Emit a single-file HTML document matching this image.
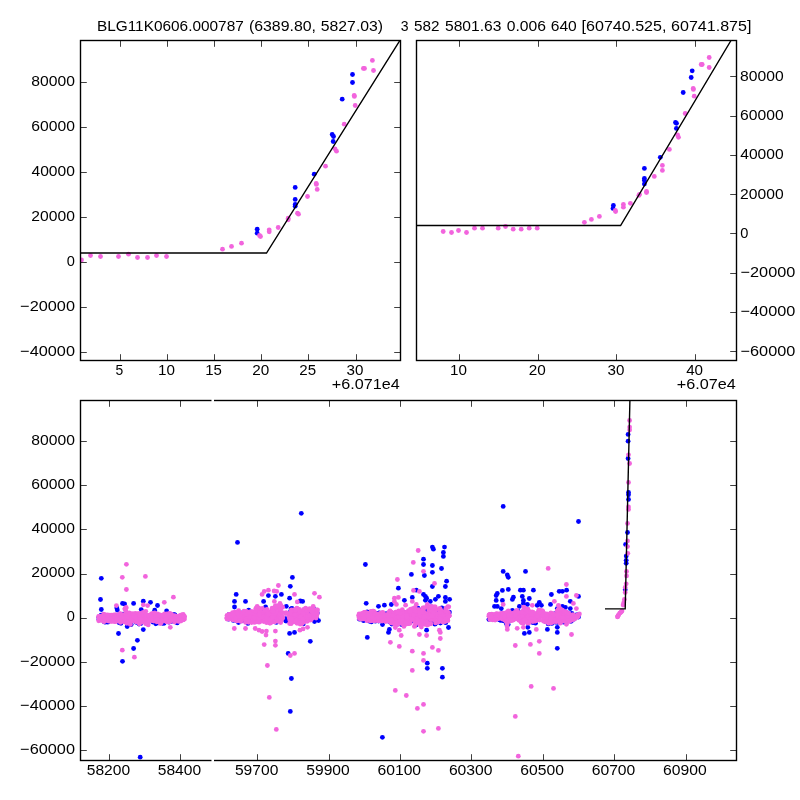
<!DOCTYPE html>
<html><head><meta charset="utf-8"><title>plot</title>
<style>
html,body{margin:0;padding:0;background:#fff;}
svg{display:block;will-change:transform;}
text{font-family:"Liberation Sans",sans-serif;font-size:13.889px;fill:#000;}
</style></head><body>
<svg width="800" height="800" viewBox="0 0 800 800">
<rect width="800" height="800" fill="#fff"/>
<defs><clipPath id="c1"><rect x="80.5" y="40.5" width="320" height="320"/></clipPath><clipPath id="c2"><rect x="416.5" y="40.5" width="320" height="320"/></clipPath><clipPath id="c3"><rect x="80.5" y="400.5" width="656" height="360"/></clipPath></defs>
<g clip-path="url(#c1)">
<g fill="#0000ff">
<circle cx="352.5" cy="74.5" r="2.4"/>
<circle cx="352.5" cy="82.5" r="2.4"/>
<circle cx="342.2" cy="99.2" r="2.4"/>
<circle cx="332.2" cy="134.5" r="2.4"/>
<circle cx="333.5" cy="136.5" r="2.4"/>
<circle cx="333.2" cy="141.5" r="2.4"/>
<circle cx="314.2" cy="174.2" r="2.4"/>
<circle cx="295.2" cy="187.4" r="2.4"/>
<circle cx="295.2" cy="199.4" r="2.4"/>
<circle cx="295.2" cy="204.5" r="2.4"/>
<circle cx="295.2" cy="206.2" r="2.4"/>
<circle cx="257.2" cy="229.2" r="2.4"/>
<circle cx="257.2" cy="233.2" r="2.4"/>
</g>
<g fill="#f264dd">
<circle cx="372.4" cy="60.4" r="2.4"/>
<circle cx="363.4" cy="68.4" r="2.4"/>
<circle cx="364.5" cy="68.4" r="2.4"/>
<circle cx="373.5" cy="70.5" r="2.4"/>
<circle cx="354.2" cy="95.4" r="2.4"/>
<circle cx="354.4" cy="96.4" r="2.4"/>
<circle cx="355.2" cy="105.5" r="2.4"/>
<circle cx="344.2" cy="124.2" r="2.4"/>
<circle cx="335.0" cy="148.8" r="2.4"/>
<circle cx="336.5" cy="151.2" r="2.4"/>
<circle cx="325.5" cy="166.2" r="2.4"/>
<circle cx="316.2" cy="183.5" r="2.4"/>
<circle cx="316.4" cy="184.4" r="2.4"/>
<circle cx="317.2" cy="189.4" r="2.4"/>
<circle cx="307.5" cy="196.5" r="2.4"/>
<circle cx="297.5" cy="213.2" r="2.4"/>
<circle cx="298.5" cy="214.2" r="2.4"/>
<circle cx="288.2" cy="218.2" r="2.4"/>
<circle cx="288.2" cy="219.8" r="2.4"/>
<circle cx="278.2" cy="227.5" r="2.4"/>
<circle cx="269.2" cy="229.8" r="2.4"/>
<circle cx="269.2" cy="231.8" r="2.4"/>
<circle cx="259.5" cy="235.5" r="2.4"/>
<circle cx="260.5" cy="236.5" r="2.4"/>
<circle cx="241.5" cy="243.2" r="2.4"/>
<circle cx="231.5" cy="246.4" r="2.4"/>
<circle cx="222.5" cy="249.2" r="2.4"/>
<circle cx="81.5" cy="260.0" r="2.4"/>
<circle cx="90.5" cy="255.5" r="2.4"/>
<circle cx="100.5" cy="256.5" r="2.4"/>
<circle cx="118.5" cy="256.5" r="2.4"/>
<circle cx="128.5" cy="254.2" r="2.4"/>
<circle cx="137.5" cy="257.5" r="2.4"/>
<circle cx="147.5" cy="257.5" r="2.4"/>
<circle cx="156.5" cy="255.5" r="2.4"/>
<circle cx="166.5" cy="256.5" r="2.4"/>
</g>
<polyline points="80.5,253 266.5,253 400.5,39.5" fill="none" stroke="#000" stroke-width="1.4" stroke-linejoin="miter"/>
</g>
<g clip-path="url(#c2)">
<g fill="#0000ff">
<circle cx="692.2" cy="70.8" r="2.4"/>
<circle cx="691.2" cy="77.5" r="2.4"/>
<circle cx="683.2" cy="92.5" r="2.4"/>
<circle cx="675.5" cy="122.5" r="2.4"/>
<circle cx="676.5" cy="123.3" r="2.4"/>
<circle cx="676.4" cy="128.4" r="2.4"/>
<circle cx="660.3" cy="157.3" r="2.4"/>
<circle cx="644.4" cy="168.4" r="2.4"/>
<circle cx="644.4" cy="178.4" r="2.4"/>
<circle cx="644.4" cy="180.4" r="2.4"/>
<circle cx="644.4" cy="184.1" r="2.4"/>
<circle cx="613.4" cy="205.4" r="2.4"/>
<circle cx="613.0" cy="208.4" r="2.4"/>
</g>
<g fill="#f264dd">
<circle cx="709.2" cy="57.5" r="2.4"/>
<circle cx="701.2" cy="64.5" r="2.4"/>
<circle cx="702.2" cy="64.5" r="2.4"/>
<circle cx="709.2" cy="67.5" r="2.4"/>
<circle cx="693.2" cy="88.4" r="2.4"/>
<circle cx="693.4" cy="89.4" r="2.4"/>
<circle cx="694.2" cy="96.2" r="2.4"/>
<circle cx="685.2" cy="113.5" r="2.4"/>
<circle cx="677.6" cy="135.0" r="2.4"/>
<circle cx="678.5" cy="137.3" r="2.4"/>
<circle cx="669.4" cy="149.4" r="2.4"/>
<circle cx="662.4" cy="165.4" r="2.4"/>
<circle cx="662.4" cy="170.4" r="2.4"/>
<circle cx="654.3" cy="176.4" r="2.4"/>
<circle cx="646.5" cy="191.4" r="2.4"/>
<circle cx="646.5" cy="192.5" r="2.4"/>
<circle cx="638.8" cy="195.4" r="2.4"/>
<circle cx="639.5" cy="194.4" r="2.4"/>
<circle cx="630.4" cy="203.3" r="2.4"/>
<circle cx="623.4" cy="204.5" r="2.4"/>
<circle cx="623.4" cy="207.2" r="2.4"/>
<circle cx="615.3" cy="210.5" r="2.4"/>
<circle cx="615.6" cy="211.5" r="2.4"/>
<circle cx="599.4" cy="216.4" r="2.4"/>
<circle cx="591.4" cy="219.4" r="2.4"/>
<circle cx="584.4" cy="222.3" r="2.4"/>
<circle cx="443.2" cy="231.5" r="2.4"/>
<circle cx="451.5" cy="232.5" r="2.4"/>
<circle cx="458.5" cy="230.5" r="2.4"/>
<circle cx="466.5" cy="232.5" r="2.4"/>
<circle cx="474.5" cy="228.2" r="2.4"/>
<circle cx="482.5" cy="228.2" r="2.4"/>
<circle cx="498.2" cy="228.2" r="2.4"/>
<circle cx="505.5" cy="226.5" r="2.4"/>
<circle cx="513.2" cy="229.2" r="2.4"/>
<circle cx="521.2" cy="229.2" r="2.4"/>
<circle cx="529.2" cy="228.2" r="2.4"/>
<circle cx="537.2" cy="228.2" r="2.4"/>
</g>
<polyline points="416.5,225.5 620.6,225.5 731.3,40" fill="none" stroke="#000" stroke-width="1.4" stroke-linejoin="miter"/>
</g>
<g clip-path="url(#c3)">
<g fill="#0000ff">
<circle cx="101.3" cy="578.3" r="2.4"/>
<circle cx="100.5" cy="599.5" r="2.4"/>
<circle cx="101.3" cy="609.5" r="2.4"/>
<circle cx="122.5" cy="603.4" r="2.4"/>
<circle cx="124.6" cy="604.0" r="2.4"/>
<circle cx="133.6" cy="603.4" r="2.4"/>
<circle cx="143.3" cy="601.2" r="2.4"/>
<circle cx="150.5" cy="602.3" r="2.4"/>
<circle cx="157.5" cy="605.5" r="2.4"/>
<circle cx="154.7" cy="610.2" r="2.4"/>
<circle cx="166.6" cy="610.9" r="2.4"/>
<circle cx="116.8" cy="607.9" r="2.4"/>
<circle cx="117.3" cy="610.0" r="2.4"/>
<circle cx="143.3" cy="629.6" r="2.4"/>
<circle cx="118.5" cy="633.5" r="2.4"/>
<circle cx="137.4" cy="640.3" r="2.4"/>
<circle cx="133.6" cy="648.5" r="2.4"/>
<circle cx="122.5" cy="661.3" r="2.4"/>
<circle cx="141.2" cy="609.6" r="2.4"/>
<circle cx="127.2" cy="626.6" r="2.4"/>
<circle cx="140.2" cy="757.2" r="2.4"/>
<circle cx="285.9" cy="618.6" r="2.4"/>
<circle cx="286.0" cy="621.0" r="2.4"/>
<circle cx="301.3" cy="513.3" r="2.4"/>
<circle cx="237.5" cy="542.4" r="2.4"/>
<circle cx="292.4" cy="577.4" r="2.4"/>
<circle cx="290.3" cy="586.3" r="2.4"/>
<circle cx="236.2" cy="594.4" r="2.4"/>
<circle cx="234.5" cy="601.4" r="2.4"/>
<circle cx="245.5" cy="601.4" r="2.4"/>
<circle cx="234.5" cy="607.0" r="2.4"/>
<circle cx="248.7" cy="610.1" r="2.4"/>
<circle cx="263.6" cy="601.4" r="2.4"/>
<circle cx="268.4" cy="595.6" r="2.4"/>
<circle cx="275.4" cy="596.3" r="2.4"/>
<circle cx="281.4" cy="594.4" r="2.4"/>
<circle cx="289.6" cy="598.2" r="2.4"/>
<circle cx="286.3" cy="606.3" r="2.4"/>
<circle cx="300.3" cy="601.0" r="2.4"/>
<circle cx="302.6" cy="601.4" r="2.4"/>
<circle cx="265.6" cy="607.0" r="2.4"/>
<circle cx="285.6" cy="620.6" r="2.4"/>
<circle cx="314.5" cy="621.5" r="2.4"/>
<circle cx="318.5" cy="620.6" r="2.4"/>
<circle cx="289.6" cy="633.4" r="2.4"/>
<circle cx="294.5" cy="632.4" r="2.4"/>
<circle cx="310.3" cy="641.3" r="2.4"/>
<circle cx="288.2" cy="653.4" r="2.4"/>
<circle cx="291.4" cy="678.5" r="2.4"/>
<circle cx="290.3" cy="711.4" r="2.4"/>
<circle cx="365.4" cy="564.5" r="2.4"/>
<circle cx="366.2" cy="603.3" r="2.4"/>
<circle cx="378.5" cy="606.3" r="2.4"/>
<circle cx="384.4" cy="605.2" r="2.4"/>
<circle cx="391.3" cy="604.5" r="2.4"/>
<circle cx="398.4" cy="588.2" r="2.4"/>
<circle cx="404.4" cy="600.3" r="2.4"/>
<circle cx="411.4" cy="574.4" r="2.4"/>
<circle cx="412.3" cy="597.4" r="2.4"/>
<circle cx="416.3" cy="590.2" r="2.4"/>
<circle cx="423.5" cy="559.2" r="2.4"/>
<circle cx="423.5" cy="564.5" r="2.4"/>
<circle cx="424.4" cy="575.5" r="2.4"/>
<circle cx="432.4" cy="547.1" r="2.4"/>
<circle cx="433.4" cy="549.2" r="2.4"/>
<circle cx="432.4" cy="565.5" r="2.4"/>
<circle cx="432.4" cy="572.3" r="2.4"/>
<circle cx="432.4" cy="586.5" r="2.4"/>
<circle cx="444.5" cy="547.1" r="2.4"/>
<circle cx="443.4" cy="552.4" r="2.4"/>
<circle cx="443.4" cy="556.4" r="2.4"/>
<circle cx="441.5" cy="568.5" r="2.4"/>
<circle cx="446.6" cy="581.2" r="2.4"/>
<circle cx="445.4" cy="586.5" r="2.4"/>
<circle cx="423.5" cy="594.4" r="2.4"/>
<circle cx="425.4" cy="596.3" r="2.4"/>
<circle cx="426.6" cy="598.2" r="2.4"/>
<circle cx="425.4" cy="600.3" r="2.4"/>
<circle cx="430.3" cy="601.4" r="2.4"/>
<circle cx="435.4" cy="599.3" r="2.4"/>
<circle cx="438.4" cy="596.3" r="2.4"/>
<circle cx="445.4" cy="597.4" r="2.4"/>
<circle cx="449.6" cy="599.3" r="2.4"/>
<circle cx="445.4" cy="601.4" r="2.4"/>
<circle cx="367.3" cy="637.4" r="2.4"/>
<circle cx="382.5" cy="624.6" r="2.4"/>
<circle cx="389.4" cy="629.4" r="2.4"/>
<circle cx="388.5" cy="632.4" r="2.4"/>
<circle cx="426.6" cy="630.2" r="2.4"/>
<circle cx="448.5" cy="627.5" r="2.4"/>
<circle cx="397.8" cy="624.1" r="2.4"/>
<circle cx="427.3" cy="663.2" r="2.4"/>
<circle cx="427.3" cy="668.3" r="2.4"/>
<circle cx="442.4" cy="668.3" r="2.4"/>
<circle cx="442.4" cy="677.2" r="2.4"/>
<circle cx="382.4" cy="737.3" r="2.4"/>
<circle cx="503.2" cy="506.4" r="2.4"/>
<circle cx="578.5" cy="521.5" r="2.4"/>
<circle cx="503.2" cy="571.4" r="2.4"/>
<circle cx="507.3" cy="575.0" r="2.4"/>
<circle cx="508.3" cy="577.3" r="2.4"/>
<circle cx="525.5" cy="571.4" r="2.4"/>
<circle cx="502.4" cy="590.4" r="2.4"/>
<circle cx="508.3" cy="589.4" r="2.4"/>
<circle cx="520.4" cy="590.2" r="2.4"/>
<circle cx="523.4" cy="590.2" r="2.4"/>
<circle cx="533.4" cy="590.2" r="2.4"/>
<circle cx="559.2" cy="591.3" r="2.4"/>
<circle cx="562.4" cy="591.3" r="2.4"/>
<circle cx="566.6" cy="590.2" r="2.4"/>
<circle cx="497.3" cy="593.4" r="2.4"/>
<circle cx="496.2" cy="595.5" r="2.4"/>
<circle cx="513.4" cy="597.2" r="2.4"/>
<circle cx="512.4" cy="599.4" r="2.4"/>
<circle cx="522.3" cy="596.4" r="2.4"/>
<circle cx="523.4" cy="600.4" r="2.4"/>
<circle cx="529.3" cy="598.5" r="2.4"/>
<circle cx="551.4" cy="594.5" r="2.4"/>
<circle cx="578.5" cy="596.4" r="2.4"/>
<circle cx="570.3" cy="601.3" r="2.4"/>
<circle cx="496.2" cy="600.4" r="2.4"/>
<circle cx="502.4" cy="600.4" r="2.4"/>
<circle cx="494.5" cy="606.4" r="2.4"/>
<circle cx="497.3" cy="606.4" r="2.4"/>
<circle cx="501.3" cy="608.6" r="2.4"/>
<circle cx="539.3" cy="602.3" r="2.4"/>
<circle cx="537.2" cy="605.3" r="2.4"/>
<circle cx="541.4" cy="605.3" r="2.4"/>
<circle cx="550.5" cy="604.4" r="2.4"/>
<circle cx="557.3" cy="608.6" r="2.4"/>
<circle cx="562.4" cy="606.4" r="2.4"/>
<circle cx="565.4" cy="607.4" r="2.4"/>
<circle cx="570.3" cy="608.6" r="2.4"/>
<circle cx="527.4" cy="604.4" r="2.4"/>
<circle cx="523.4" cy="603.4" r="2.4"/>
<circle cx="512.4" cy="610.4" r="2.4"/>
<circle cx="519.4" cy="606.4" r="2.4"/>
<circle cx="524.4" cy="633.4" r="2.4"/>
<circle cx="529.3" cy="632.4" r="2.4"/>
<circle cx="527.8" cy="627.3" r="2.4"/>
<circle cx="535.5" cy="623.2" r="2.4"/>
<circle cx="547.4" cy="629.4" r="2.4"/>
<circle cx="557.3" cy="632.4" r="2.4"/>
<circle cx="557.3" cy="627.3" r="2.4"/>
<circle cx="557.3" cy="622.4" r="2.4"/>
<circle cx="557.3" cy="648.3" r="2.4"/>
<circle cx="578.5" cy="617.1" r="2.4"/>
<circle cx="628.1" cy="434.4" r="2.4"/>
<circle cx="628.1" cy="441.2" r="2.4"/>
<circle cx="628.1" cy="458.5" r="2.4"/>
<circle cx="628.5" cy="492.5" r="2.4"/>
<circle cx="628.5" cy="494.8" r="2.4"/>
<circle cx="628.5" cy="499.4" r="2.4"/>
<circle cx="627.5" cy="532.5" r="2.4"/>
<circle cx="625.6" cy="544.4" r="2.4"/>
<circle cx="626.2" cy="556.1" r="2.4"/>
<circle cx="626.2" cy="560.3" r="2.4"/>
<circle cx="626.2" cy="563.3" r="2.4"/>
<circle cx="625.2" cy="589.8" r="2.4"/>
<circle cx="158.3" cy="622.7" r="2.4"/>
<circle cx="159.7" cy="616.7" r="2.4"/>
<circle cx="146.2" cy="617.6" r="2.4"/>
<circle cx="166.3" cy="618.8" r="2.4"/>
<circle cx="121.4" cy="620.1" r="2.4"/>
<circle cx="181.5" cy="616.2" r="2.4"/>
<circle cx="174.2" cy="614.6" r="2.4"/>
<circle cx="121.0" cy="615.9" r="2.4"/>
<circle cx="162.5" cy="623.3" r="2.4"/>
<circle cx="162.7" cy="617.2" r="2.4"/>
<circle cx="174.2" cy="617.4" r="2.4"/>
<circle cx="119.2" cy="622.8" r="2.4"/>
<circle cx="152.8" cy="620.8" r="2.4"/>
<circle cx="155.8" cy="623.8" r="2.4"/>
<circle cx="139.0" cy="624.0" r="2.4"/>
<circle cx="158.5" cy="622.8" r="2.4"/>
<circle cx="136.2" cy="621.8" r="2.4"/>
<circle cx="147.6" cy="616.4" r="2.4"/>
<circle cx="116.8" cy="620.1" r="2.4"/>
<circle cx="105.3" cy="622.2" r="2.4"/>
<circle cx="111.1" cy="615.4" r="2.4"/>
<circle cx="107.8" cy="622.2" r="2.4"/>
<circle cx="128.3" cy="613.7" r="2.4"/>
<circle cx="101.1" cy="615.1" r="2.4"/>
<circle cx="158.1" cy="620.4" r="2.4"/>
<circle cx="158.5" cy="621.5" r="2.4"/>
<circle cx="104.3" cy="619.5" r="2.4"/>
<circle cx="129.8" cy="624.1" r="2.4"/>
<circle cx="169.0" cy="622.2" r="2.4"/>
<circle cx="104.3" cy="621.9" r="2.4"/>
<circle cx="177.2" cy="622.9" r="2.4"/>
<circle cx="107.8" cy="616.6" r="2.4"/>
<circle cx="108.3" cy="615.4" r="2.4"/>
<circle cx="171.4" cy="621.4" r="2.4"/>
<circle cx="153.1" cy="622.2" r="2.4"/>
<circle cx="152.9" cy="616.4" r="2.4"/>
<circle cx="107.2" cy="615.7" r="2.4"/>
<circle cx="163.7" cy="615.9" r="2.4"/>
<circle cx="126.0" cy="615.8" r="2.4"/>
<circle cx="100.4" cy="617.2" r="2.4"/>
<circle cx="122.9" cy="620.7" r="2.4"/>
<circle cx="130.2" cy="617.9" r="2.4"/>
<circle cx="181.4" cy="618.6" r="2.4"/>
<circle cx="171.7" cy="619.6" r="2.4"/>
<circle cx="101.3" cy="618.1" r="2.4"/>
<circle cx="136.1" cy="622.3" r="2.4"/>
<circle cx="128.4" cy="621.8" r="2.4"/>
<circle cx="144.8" cy="614.0" r="2.4"/>
<circle cx="172.7" cy="614.7" r="2.4"/>
<circle cx="169.0" cy="615.2" r="2.4"/>
<circle cx="98.8" cy="617.5" r="2.4"/>
<circle cx="164.1" cy="623.3" r="2.4"/>
<circle cx="99.0" cy="619.2" r="2.4"/>
<circle cx="140.8" cy="623.6" r="2.4"/>
<circle cx="114.5" cy="619.2" r="2.4"/>
<circle cx="128.5" cy="623.6" r="2.4"/>
<circle cx="121.0" cy="623.3" r="2.4"/>
<circle cx="123.0" cy="614.1" r="2.4"/>
<circle cx="158.7" cy="619.0" r="2.4"/>
<circle cx="108.1" cy="619.9" r="2.4"/>
<circle cx="105.6" cy="621.2" r="2.4"/>
<circle cx="158.5" cy="622.1" r="2.4"/>
<circle cx="152.6" cy="617.2" r="2.4"/>
<circle cx="133.1" cy="618.2" r="2.4"/>
<circle cx="175.1" cy="615.6" r="2.4"/>
<circle cx="174.9" cy="615.0" r="2.4"/>
<circle cx="116.3" cy="617.1" r="2.4"/>
<circle cx="176.0" cy="619.3" r="2.4"/>
<circle cx="131.2" cy="624.5" r="2.4"/>
<circle cx="118.7" cy="618.5" r="2.4"/>
<circle cx="232.0" cy="615.1" r="2.4"/>
<circle cx="273.6" cy="609.5" r="2.4"/>
<circle cx="251.7" cy="621.8" r="2.4"/>
<circle cx="272.0" cy="611.2" r="2.4"/>
<circle cx="246.6" cy="620.4" r="2.4"/>
<circle cx="247.9" cy="623.4" r="2.4"/>
<circle cx="238.5" cy="622.6" r="2.4"/>
<circle cx="255.1" cy="612.2" r="2.4"/>
<circle cx="252.2" cy="612.5" r="2.4"/>
<circle cx="266.4" cy="613.3" r="2.4"/>
<circle cx="277.3" cy="616.9" r="2.4"/>
<circle cx="247.4" cy="614.5" r="2.4"/>
<circle cx="260.9" cy="611.5" r="2.4"/>
<circle cx="275.7" cy="608.0" r="2.4"/>
<circle cx="255.6" cy="616.8" r="2.4"/>
<circle cx="242.0" cy="620.8" r="2.4"/>
<circle cx="248.4" cy="619.6" r="2.4"/>
<circle cx="258.6" cy="612.6" r="2.4"/>
<circle cx="248.7" cy="612.5" r="2.4"/>
<circle cx="236.7" cy="620.8" r="2.4"/>
<circle cx="244.8" cy="619.7" r="2.4"/>
<circle cx="232.9" cy="617.3" r="2.4"/>
<circle cx="247.1" cy="617.7" r="2.4"/>
<circle cx="243.5" cy="612.1" r="2.4"/>
<circle cx="244.3" cy="614.2" r="2.4"/>
<circle cx="233.9" cy="618.8" r="2.4"/>
<circle cx="242.6" cy="616.2" r="2.4"/>
<circle cx="277.8" cy="620.5" r="2.4"/>
<circle cx="276.3" cy="622.4" r="2.4"/>
<circle cx="234.2" cy="614.8" r="2.4"/>
<circle cx="228.5" cy="619.2" r="2.4"/>
<circle cx="264.0" cy="614.2" r="2.4"/>
<circle cx="249.9" cy="619.7" r="2.4"/>
<circle cx="266.0" cy="613.1" r="2.4"/>
<circle cx="274.3" cy="613.2" r="2.4"/>
<circle cx="262.1" cy="611.3" r="2.4"/>
<circle cx="233.3" cy="620.4" r="2.4"/>
<circle cx="268.0" cy="620.1" r="2.4"/>
<circle cx="229.1" cy="614.4" r="2.4"/>
<circle cx="235.9" cy="613.7" r="2.4"/>
<circle cx="243.8" cy="616.1" r="2.4"/>
<circle cx="229.0" cy="616.4" r="2.4"/>
<circle cx="262.6" cy="611.4" r="2.4"/>
<circle cx="273.9" cy="617.2" r="2.4"/>
<circle cx="267.0" cy="613.3" r="2.4"/>
<circle cx="291.6" cy="613.9" r="2.4"/>
<circle cx="315.3" cy="616.9" r="2.4"/>
<circle cx="314.2" cy="619.9" r="2.4"/>
<circle cx="289.9" cy="612.3" r="2.4"/>
<circle cx="311.7" cy="616.9" r="2.4"/>
<circle cx="290.1" cy="616.8" r="2.4"/>
<circle cx="295.6" cy="615.3" r="2.4"/>
<circle cx="292.0" cy="608.4" r="2.4"/>
<circle cx="317.3" cy="613.1" r="2.4"/>
<circle cx="314.1" cy="609.4" r="2.4"/>
<circle cx="302.9" cy="610.9" r="2.4"/>
<circle cx="301.3" cy="612.1" r="2.4"/>
<circle cx="308.6" cy="609.8" r="2.4"/>
<circle cx="310.1" cy="614.7" r="2.4"/>
<circle cx="292.2" cy="614.1" r="2.4"/>
<circle cx="303.2" cy="623.9" r="2.4"/>
<circle cx="299.0" cy="612.3" r="2.4"/>
<circle cx="316.7" cy="618.9" r="2.4"/>
<circle cx="309.9" cy="611.5" r="2.4"/>
<circle cx="294.1" cy="612.4" r="2.4"/>
<circle cx="291.0" cy="608.9" r="2.4"/>
<circle cx="303.6" cy="615.2" r="2.4"/>
<circle cx="304.9" cy="614.0" r="2.4"/>
<circle cx="289.3" cy="619.8" r="2.4"/>
<circle cx="307.7" cy="615.8" r="2.4"/>
<circle cx="370.9" cy="617.2" r="2.4"/>
<circle cx="389.3" cy="621.5" r="2.4"/>
<circle cx="390.2" cy="622.0" r="2.4"/>
<circle cx="435.8" cy="623.3" r="2.4"/>
<circle cx="371.4" cy="621.9" r="2.4"/>
<circle cx="426.4" cy="620.2" r="2.4"/>
<circle cx="418.0" cy="608.1" r="2.4"/>
<circle cx="437.8" cy="617.2" r="2.4"/>
<circle cx="400.2" cy="615.3" r="2.4"/>
<circle cx="429.9" cy="622.0" r="2.4"/>
<circle cx="437.8" cy="611.2" r="2.4"/>
<circle cx="389.7" cy="614.1" r="2.4"/>
<circle cx="367.9" cy="615.1" r="2.4"/>
<circle cx="361.2" cy="619.1" r="2.4"/>
<circle cx="379.4" cy="613.0" r="2.4"/>
<circle cx="364.9" cy="619.2" r="2.4"/>
<circle cx="376.8" cy="616.7" r="2.4"/>
<circle cx="395.3" cy="622.8" r="2.4"/>
<circle cx="445.4" cy="611.6" r="2.4"/>
<circle cx="416.2" cy="624.5" r="2.4"/>
<circle cx="401.5" cy="624.6" r="2.4"/>
<circle cx="425.4" cy="612.7" r="2.4"/>
<circle cx="438.2" cy="617.7" r="2.4"/>
<circle cx="368.4" cy="617.8" r="2.4"/>
<circle cx="434.1" cy="616.5" r="2.4"/>
<circle cx="402.7" cy="616.2" r="2.4"/>
<circle cx="438.7" cy="619.3" r="2.4"/>
<circle cx="377.7" cy="615.8" r="2.4"/>
<circle cx="391.8" cy="624.0" r="2.4"/>
<circle cx="422.0" cy="609.8" r="2.4"/>
<circle cx="441.8" cy="607.8" r="2.4"/>
<circle cx="412.5" cy="615.5" r="2.4"/>
<circle cx="423.9" cy="615.4" r="2.4"/>
<circle cx="367.2" cy="617.1" r="2.4"/>
<circle cx="433.3" cy="621.7" r="2.4"/>
<circle cx="391.2" cy="614.0" r="2.4"/>
<circle cx="426.4" cy="622.8" r="2.4"/>
<circle cx="378.7" cy="621.0" r="2.4"/>
<circle cx="448.9" cy="613.7" r="2.4"/>
<circle cx="393.4" cy="621.0" r="2.4"/>
<circle cx="443.2" cy="610.3" r="2.4"/>
<circle cx="386.2" cy="615.6" r="2.4"/>
<circle cx="425.3" cy="610.2" r="2.4"/>
<circle cx="408.5" cy="617.3" r="2.4"/>
<circle cx="419.5" cy="610.2" r="2.4"/>
<circle cx="445.7" cy="622.7" r="2.4"/>
<circle cx="409.7" cy="622.0" r="2.4"/>
<circle cx="375.4" cy="621.2" r="2.4"/>
<circle cx="408.9" cy="621.4" r="2.4"/>
<circle cx="437.7" cy="613.8" r="2.4"/>
<circle cx="442.7" cy="610.5" r="2.4"/>
<circle cx="360.9" cy="617.1" r="2.4"/>
<circle cx="440.4" cy="623.1" r="2.4"/>
<circle cx="445.5" cy="614.8" r="2.4"/>
<circle cx="443.5" cy="616.2" r="2.4"/>
<circle cx="371.8" cy="618.3" r="2.4"/>
<circle cx="431.7" cy="614.7" r="2.4"/>
<circle cx="413.5" cy="612.0" r="2.4"/>
<circle cx="383.9" cy="616.8" r="2.4"/>
<circle cx="405.4" cy="617.0" r="2.4"/>
<circle cx="367.2" cy="611.9" r="2.4"/>
<circle cx="389.7" cy="620.2" r="2.4"/>
<circle cx="426.8" cy="610.9" r="2.4"/>
<circle cx="382.0" cy="617.7" r="2.4"/>
<circle cx="374.7" cy="618.0" r="2.4"/>
<circle cx="440.9" cy="610.9" r="2.4"/>
<circle cx="412.0" cy="620.8" r="2.4"/>
<circle cx="426.8" cy="620.9" r="2.4"/>
<circle cx="423.3" cy="612.4" r="2.4"/>
<circle cx="434.9" cy="624.2" r="2.4"/>
<circle cx="363.6" cy="620.7" r="2.4"/>
<circle cx="399.0" cy="611.5" r="2.4"/>
<circle cx="365.1" cy="619.7" r="2.4"/>
<circle cx="420.3" cy="610.4" r="2.4"/>
<circle cx="400.6" cy="620.2" r="2.4"/>
<circle cx="449.4" cy="612.1" r="2.4"/>
<circle cx="428.4" cy="611.0" r="2.4"/>
<circle cx="376.9" cy="613.7" r="2.4"/>
<circle cx="396.0" cy="620.3" r="2.4"/>
<circle cx="386.3" cy="613.6" r="2.4"/>
<circle cx="378.6" cy="613.1" r="2.4"/>
<circle cx="376.3" cy="615.2" r="2.4"/>
<circle cx="404.6" cy="612.3" r="2.4"/>
<circle cx="402.4" cy="616.6" r="2.4"/>
<circle cx="447.1" cy="614.5" r="2.4"/>
<circle cx="444.6" cy="614.4" r="2.4"/>
<circle cx="376.8" cy="618.0" r="2.4"/>
<circle cx="371.9" cy="613.0" r="2.4"/>
<circle cx="365.5" cy="618.8" r="2.4"/>
<circle cx="446.6" cy="613.1" r="2.4"/>
<circle cx="391.0" cy="616.6" r="2.4"/>
<circle cx="390.8" cy="620.2" r="2.4"/>
<circle cx="394.4" cy="613.5" r="2.4"/>
<circle cx="437.3" cy="617.6" r="2.4"/>
<circle cx="359.4" cy="619.2" r="2.4"/>
<circle cx="424.9" cy="613.7" r="2.4"/>
<circle cx="416.0" cy="625.0" r="2.4"/>
<circle cx="395.3" cy="617.6" r="2.4"/>
<circle cx="385.9" cy="618.1" r="2.4"/>
<circle cx="419.0" cy="621.7" r="2.4"/>
<circle cx="445.0" cy="609.0" r="2.4"/>
<circle cx="392.0" cy="622.6" r="2.4"/>
<circle cx="430.6" cy="618.1" r="2.4"/>
<circle cx="420.3" cy="614.2" r="2.4"/>
<circle cx="444.6" cy="615.7" r="2.4"/>
<circle cx="395.3" cy="614.0" r="2.4"/>
<circle cx="369.3" cy="621.2" r="2.4"/>
<circle cx="431.5" cy="606.8" r="2.4"/>
<circle cx="388.1" cy="617.2" r="2.4"/>
<circle cx="403.8" cy="615.3" r="2.4"/>
<circle cx="544.6" cy="616.8" r="2.4"/>
<circle cx="545.6" cy="617.8" r="2.4"/>
<circle cx="551.9" cy="623.4" r="2.4"/>
<circle cx="490.0" cy="616.5" r="2.4"/>
<circle cx="567.3" cy="612.8" r="2.4"/>
<circle cx="559.6" cy="607.6" r="2.4"/>
<circle cx="546.8" cy="621.9" r="2.4"/>
<circle cx="510.1" cy="616.2" r="2.4"/>
<circle cx="509.1" cy="619.6" r="2.4"/>
<circle cx="536.2" cy="618.0" r="2.4"/>
<circle cx="517.9" cy="617.1" r="2.4"/>
<circle cx="574.3" cy="619.1" r="2.4"/>
<circle cx="574.0" cy="615.5" r="2.4"/>
<circle cx="535.0" cy="616.2" r="2.4"/>
<circle cx="519.8" cy="620.0" r="2.4"/>
<circle cx="504.5" cy="618.0" r="2.4"/>
<circle cx="558.1" cy="621.7" r="2.4"/>
<circle cx="490.5" cy="616.1" r="2.4"/>
<circle cx="533.0" cy="622.7" r="2.4"/>
<circle cx="503.4" cy="620.8" r="2.4"/>
<circle cx="524.4" cy="617.4" r="2.4"/>
<circle cx="571.9" cy="613.3" r="2.4"/>
<circle cx="518.3" cy="611.4" r="2.4"/>
<circle cx="500.8" cy="616.2" r="2.4"/>
<circle cx="551.6" cy="619.5" r="2.4"/>
<circle cx="499.7" cy="619.9" r="2.4"/>
<circle cx="534.2" cy="613.9" r="2.4"/>
<circle cx="562.3" cy="620.6" r="2.4"/>
<circle cx="508.2" cy="624.4" r="2.4"/>
<circle cx="561.4" cy="611.7" r="2.4"/>
<circle cx="488.9" cy="619.4" r="2.4"/>
<circle cx="562.8" cy="610.6" r="2.4"/>
<circle cx="557.4" cy="619.6" r="2.4"/>
<circle cx="545.6" cy="621.5" r="2.4"/>
<circle cx="577.0" cy="616.0" r="2.4"/>
<circle cx="563.5" cy="622.2" r="2.4"/>
<circle cx="516.9" cy="618.5" r="2.4"/>
<circle cx="550.1" cy="622.9" r="2.4"/>
<circle cx="539.6" cy="613.3" r="2.4"/>
<circle cx="511.3" cy="617.9" r="2.4"/>
<circle cx="500.9" cy="620.4" r="2.4"/>
<circle cx="568.4" cy="614.9" r="2.4"/>
<circle cx="551.2" cy="620.5" r="2.4"/>
<circle cx="499.7" cy="619.7" r="2.4"/>
<circle cx="557.4" cy="613.3" r="2.4"/>
<circle cx="497.6" cy="615.8" r="2.4"/>
<circle cx="557.9" cy="615.2" r="2.4"/>
<circle cx="561.8" cy="610.9" r="2.4"/>
<circle cx="498.3" cy="616.4" r="2.4"/>
<circle cx="567.6" cy="614.0" r="2.4"/>
<circle cx="495.4" cy="619.4" r="2.4"/>
<circle cx="497.0" cy="618.8" r="2.4"/>
<circle cx="496.3" cy="615.4" r="2.4"/>
<circle cx="548.2" cy="623.9" r="2.4"/>
<circle cx="525.4" cy="615.6" r="2.4"/>
<circle cx="491.6" cy="616.4" r="2.4"/>
<circle cx="510.5" cy="620.3" r="2.4"/>
<circle cx="552.8" cy="621.3" r="2.4"/>
<circle cx="536.4" cy="619.0" r="2.4"/>
<circle cx="500.2" cy="616.8" r="2.4"/>
<circle cx="515.0" cy="615.0" r="2.4"/>
<circle cx="555.0" cy="613.7" r="2.4"/>
<circle cx="517.9" cy="613.3" r="2.4"/>
<circle cx="566.2" cy="619.3" r="2.4"/>
<circle cx="531.8" cy="615.5" r="2.4"/>
<circle cx="571.3" cy="621.2" r="2.4"/>
<circle cx="529.1" cy="617.8" r="2.4"/>
<circle cx="566.0" cy="614.6" r="2.4"/>
<circle cx="512.0" cy="614.2" r="2.4"/>
<circle cx="533.8" cy="620.5" r="2.4"/>
<circle cx="502.8" cy="616.9" r="2.4"/>
<circle cx="577.5" cy="616.4" r="2.4"/>
<circle cx="523.0" cy="622.7" r="2.4"/>
<circle cx="568.7" cy="616.3" r="2.4"/>
<circle cx="499.9" cy="618.7" r="2.4"/>
<circle cx="555.1" cy="622.2" r="2.4"/>
<circle cx="547.9" cy="615.4" r="2.4"/>
<circle cx="534.9" cy="615.3" r="2.4"/>
<circle cx="528.7" cy="616.1" r="2.4"/>
<circle cx="570.5" cy="621.2" r="2.4"/>
<circle cx="571.8" cy="616.9" r="2.4"/>
<circle cx="575.2" cy="615.1" r="2.4"/>
<circle cx="571.3" cy="618.5" r="2.4"/>
<circle cx="566.9" cy="616.9" r="2.4"/>
<circle cx="577.5" cy="614.7" r="2.4"/>
<circle cx="564.7" cy="621.2" r="2.4"/>
<circle cx="522.3" cy="622.0" r="2.4"/>
<circle cx="507.9" cy="622.3" r="2.4"/>
<circle cx="530.7" cy="615.6" r="2.4"/>
<circle cx="506.4" cy="623.8" r="2.4"/>
</g>
<g fill="#f264dd">
<circle cx="126.4" cy="564.3" r="2.4"/>
<circle cx="122.3" cy="577.3" r="2.4"/>
<circle cx="145.4" cy="576.4" r="2.4"/>
<circle cx="126.4" cy="589.5" r="2.4"/>
<circle cx="173.4" cy="597.2" r="2.4"/>
<circle cx="164.3" cy="602.3" r="2.4"/>
<circle cx="116.4" cy="605.6" r="2.4"/>
<circle cx="143.3" cy="604.8" r="2.4"/>
<circle cx="147.6" cy="605.6" r="2.4"/>
<circle cx="126.2" cy="607.4" r="2.4"/>
<circle cx="170.3" cy="627.3" r="2.4"/>
<circle cx="122.3" cy="650.2" r="2.4"/>
<circle cx="134.4" cy="657.2" r="2.4"/>
<circle cx="148.2" cy="624.9" r="2.4"/>
<circle cx="160.3" cy="623.6" r="2.4"/>
<circle cx="184.5" cy="619.1" r="2.4"/>
<circle cx="183.2" cy="614.4" r="2.4"/>
<circle cx="278.4" cy="585.5" r="2.4"/>
<circle cx="268.4" cy="590.2" r="2.4"/>
<circle cx="264.2" cy="591.4" r="2.4"/>
<circle cx="262.1" cy="594.4" r="2.4"/>
<circle cx="274.1" cy="591.0" r="2.4"/>
<circle cx="276.7" cy="591.4" r="2.4"/>
<circle cx="294.5" cy="594.4" r="2.4"/>
<circle cx="314.5" cy="593.3" r="2.4"/>
<circle cx="319.4" cy="597.2" r="2.4"/>
<circle cx="274.4" cy="601.4" r="2.4"/>
<circle cx="297.3" cy="601.9" r="2.4"/>
<circle cx="280.0" cy="603.5" r="2.4"/>
<circle cx="313.2" cy="606.3" r="2.4"/>
<circle cx="257.2" cy="606.3" r="2.4"/>
<circle cx="234.3" cy="628.5" r="2.4"/>
<circle cx="245.5" cy="628.5" r="2.4"/>
<circle cx="255.2" cy="628.5" r="2.4"/>
<circle cx="259.0" cy="630.2" r="2.4"/>
<circle cx="262.1" cy="631.5" r="2.4"/>
<circle cx="266.4" cy="631.1" r="2.4"/>
<circle cx="266.0" cy="635.1" r="2.4"/>
<circle cx="275.4" cy="631.1" r="2.4"/>
<circle cx="299.9" cy="630.2" r="2.4"/>
<circle cx="303.1" cy="628.9" r="2.4"/>
<circle cx="307.5" cy="627.3" r="2.4"/>
<circle cx="275.4" cy="641.1" r="2.4"/>
<circle cx="264.2" cy="644.6" r="2.4"/>
<circle cx="275.4" cy="645.3" r="2.4"/>
<circle cx="294.5" cy="653.4" r="2.4"/>
<circle cx="290.3" cy="655.5" r="2.4"/>
<circle cx="267.4" cy="665.5" r="2.4"/>
<circle cx="269.3" cy="697.4" r="2.4"/>
<circle cx="276.3" cy="729.4" r="2.4"/>
<circle cx="418.2" cy="550.5" r="2.4"/>
<circle cx="413.3" cy="562.4" r="2.4"/>
<circle cx="423.5" cy="571.3" r="2.4"/>
<circle cx="397.4" cy="579.5" r="2.4"/>
<circle cx="434.5" cy="583.4" r="2.4"/>
<circle cx="413.5" cy="590.4" r="2.4"/>
<circle cx="419.4" cy="591.4" r="2.4"/>
<circle cx="398.4" cy="597.4" r="2.4"/>
<circle cx="394.4" cy="598.2" r="2.4"/>
<circle cx="394.4" cy="601.4" r="2.4"/>
<circle cx="396.4" cy="604.4" r="2.4"/>
<circle cx="412.3" cy="601.4" r="2.4"/>
<circle cx="405.6" cy="605.2" r="2.4"/>
<circle cx="416.3" cy="604.4" r="2.4"/>
<circle cx="427.3" cy="604.4" r="2.4"/>
<circle cx="390.4" cy="642.3" r="2.4"/>
<circle cx="395.3" cy="627.5" r="2.4"/>
<circle cx="399.3" cy="630.2" r="2.4"/>
<circle cx="401.2" cy="635.5" r="2.4"/>
<circle cx="399.3" cy="646.4" r="2.4"/>
<circle cx="412.3" cy="651.2" r="2.4"/>
<circle cx="419.4" cy="634.5" r="2.4"/>
<circle cx="426.6" cy="635.5" r="2.4"/>
<circle cx="423.5" cy="653.4" r="2.4"/>
<circle cx="423.5" cy="660.4" r="2.4"/>
<circle cx="432.4" cy="647.4" r="2.4"/>
<circle cx="438.4" cy="650.4" r="2.4"/>
<circle cx="440.3" cy="638.5" r="2.4"/>
<circle cx="439.4" cy="630.2" r="2.4"/>
<circle cx="440.3" cy="632.4" r="2.4"/>
<circle cx="403.9" cy="626.4" r="2.4"/>
<circle cx="414.4" cy="626.4" r="2.4"/>
<circle cx="421.4" cy="627.1" r="2.4"/>
<circle cx="412.3" cy="670.4" r="2.4"/>
<circle cx="395.3" cy="690.4" r="2.4"/>
<circle cx="406.3" cy="695.5" r="2.4"/>
<circle cx="423.5" cy="704.4" r="2.4"/>
<circle cx="417.4" cy="708.4" r="2.4"/>
<circle cx="438.4" cy="728.4" r="2.4"/>
<circle cx="423.5" cy="731.3" r="2.4"/>
<circle cx="285.9" cy="613.7" r="2.4"/>
<circle cx="286.1" cy="612.6" r="2.4"/>
<circle cx="507.2" cy="626.5" r="2.4"/>
<circle cx="548.2" cy="568.4" r="2.4"/>
<circle cx="566.4" cy="584.5" r="2.4"/>
<circle cx="566.4" cy="596.4" r="2.4"/>
<circle cx="576.4" cy="595.5" r="2.4"/>
<circle cx="554.4" cy="601.3" r="2.4"/>
<circle cx="573.4" cy="603.4" r="2.4"/>
<circle cx="503.2" cy="604.4" r="2.4"/>
<circle cx="532.3" cy="605.3" r="2.4"/>
<circle cx="558.4" cy="605.3" r="2.4"/>
<circle cx="576.4" cy="608.6" r="2.4"/>
<circle cx="579.4" cy="613.9" r="2.4"/>
<circle cx="507.3" cy="629.4" r="2.4"/>
<circle cx="517.2" cy="628.3" r="2.4"/>
<circle cx="523.4" cy="627.3" r="2.4"/>
<circle cx="536.3" cy="629.4" r="2.4"/>
<circle cx="566.4" cy="624.3" r="2.4"/>
<circle cx="560.3" cy="623.2" r="2.4"/>
<circle cx="571.5" cy="634.5" r="2.4"/>
<circle cx="539.3" cy="641.3" r="2.4"/>
<circle cx="530.4" cy="644.4" r="2.4"/>
<circle cx="515.3" cy="645.5" r="2.4"/>
<circle cx="539.3" cy="653.4" r="2.4"/>
<circle cx="531.2" cy="686.4" r="2.4"/>
<circle cx="553.5" cy="688.4" r="2.4"/>
<circle cx="515.3" cy="716.4" r="2.4"/>
<circle cx="518.3" cy="756.2" r="2.4"/>
<circle cx="629.6" cy="420.4" r="2.4"/>
<circle cx="629.6" cy="427.1" r="2.4"/>
<circle cx="629.6" cy="430.0" r="2.4"/>
<circle cx="628.5" cy="454.8" r="2.4"/>
<circle cx="629.6" cy="463.5" r="2.4"/>
<circle cx="628.5" cy="482.4" r="2.4"/>
<circle cx="628.5" cy="506.9" r="2.4"/>
<circle cx="628.5" cy="509.4" r="2.4"/>
<circle cx="627.5" cy="523.4" r="2.4"/>
<circle cx="627.5" cy="540.9" r="2.4"/>
<circle cx="627.5" cy="546.6" r="2.4"/>
<circle cx="627.8" cy="553.3" r="2.4"/>
<circle cx="626.5" cy="571.5" r="2.4"/>
<circle cx="626.5" cy="575.9" r="2.4"/>
<circle cx="626.2" cy="583.8" r="2.4"/>
<circle cx="625.2" cy="587.5" r="2.4"/>
<circle cx="625.2" cy="592.5" r="2.4"/>
<circle cx="624.4" cy="599.4" r="2.4"/>
<circle cx="623.8" cy="602.5" r="2.4"/>
<circle cx="623.1" cy="605.0" r="2.4"/>
<circle cx="621.2" cy="611.9" r="2.4"/>
<circle cx="619.8" cy="613.1" r="2.4"/>
<circle cx="618.1" cy="615.6" r="2.4"/>
<circle cx="617.5" cy="616.9" r="2.4"/>
<circle cx="620.3" cy="612.8" r="2.4"/>
<circle cx="618.8" cy="614.6" r="2.4"/>
<circle cx="617.8" cy="616.3" r="2.4"/>
<circle cx="622.0" cy="611.0" r="2.4"/>
<circle cx="126.5" cy="618.9" r="2.4"/>
<circle cx="104.9" cy="616.9" r="2.4"/>
<circle cx="103.6" cy="614.2" r="2.4"/>
<circle cx="135.9" cy="614.1" r="2.4"/>
<circle cx="135.1" cy="619.3" r="2.4"/>
<circle cx="152.5" cy="619.3" r="2.4"/>
<circle cx="148.2" cy="623.1" r="2.4"/>
<circle cx="102.6" cy="618.3" r="2.4"/>
<circle cx="108.8" cy="620.2" r="2.4"/>
<circle cx="114.2" cy="619.4" r="2.4"/>
<circle cx="130.6" cy="614.3" r="2.4"/>
<circle cx="103.8" cy="619.3" r="2.4"/>
<circle cx="135.4" cy="619.1" r="2.4"/>
<circle cx="137.6" cy="621.9" r="2.4"/>
<circle cx="158.7" cy="619.0" r="2.4"/>
<circle cx="143.7" cy="619.4" r="2.4"/>
<circle cx="161.3" cy="622.7" r="2.4"/>
<circle cx="108.8" cy="619.8" r="2.4"/>
<circle cx="111.7" cy="615.2" r="2.4"/>
<circle cx="156.0" cy="615.6" r="2.4"/>
<circle cx="125.6" cy="617.4" r="2.4"/>
<circle cx="148.4" cy="621.6" r="2.4"/>
<circle cx="179.8" cy="619.3" r="2.4"/>
<circle cx="103.9" cy="617.1" r="2.4"/>
<circle cx="154.2" cy="619.1" r="2.4"/>
<circle cx="131.8" cy="613.7" r="2.4"/>
<circle cx="138.3" cy="614.7" r="2.4"/>
<circle cx="103.7" cy="617.3" r="2.4"/>
<circle cx="109.8" cy="617.5" r="2.4"/>
<circle cx="173.5" cy="617.5" r="2.4"/>
<circle cx="145.8" cy="619.8" r="2.4"/>
<circle cx="122.6" cy="615.6" r="2.4"/>
<circle cx="174.6" cy="615.6" r="2.4"/>
<circle cx="111.6" cy="616.5" r="2.4"/>
<circle cx="118.7" cy="618.8" r="2.4"/>
<circle cx="121.2" cy="617.0" r="2.4"/>
<circle cx="130.4" cy="624.4" r="2.4"/>
<circle cx="157.9" cy="619.3" r="2.4"/>
<circle cx="156.7" cy="621.8" r="2.4"/>
<circle cx="165.6" cy="619.0" r="2.4"/>
<circle cx="132.9" cy="620.1" r="2.4"/>
<circle cx="104.0" cy="615.6" r="2.4"/>
<circle cx="112.6" cy="615.3" r="2.4"/>
<circle cx="98.7" cy="616.5" r="2.4"/>
<circle cx="129.9" cy="623.6" r="2.4"/>
<circle cx="151.4" cy="615.5" r="2.4"/>
<circle cx="128.5" cy="613.3" r="2.4"/>
<circle cx="171.5" cy="617.0" r="2.4"/>
<circle cx="138.7" cy="614.4" r="2.4"/>
<circle cx="107.4" cy="616.4" r="2.4"/>
<circle cx="169.8" cy="613.4" r="2.4"/>
<circle cx="180.3" cy="615.5" r="2.4"/>
<circle cx="145.3" cy="617.8" r="2.4"/>
<circle cx="182.7" cy="618.1" r="2.4"/>
<circle cx="130.1" cy="622.4" r="2.4"/>
<circle cx="144.4" cy="617.3" r="2.4"/>
<circle cx="127.0" cy="621.5" r="2.4"/>
<circle cx="183.2" cy="619.5" r="2.4"/>
<circle cx="162.2" cy="618.3" r="2.4"/>
<circle cx="129.2" cy="612.9" r="2.4"/>
<circle cx="122.6" cy="619.4" r="2.4"/>
<circle cx="180.8" cy="621.1" r="2.4"/>
<circle cx="183.5" cy="615.7" r="2.4"/>
<circle cx="130.0" cy="616.2" r="2.4"/>
<circle cx="115.5" cy="619.3" r="2.4"/>
<circle cx="175.9" cy="616.2" r="2.4"/>
<circle cx="167.3" cy="619.1" r="2.4"/>
<circle cx="176.8" cy="618.8" r="2.4"/>
<circle cx="163.0" cy="615.2" r="2.4"/>
<circle cx="166.4" cy="620.3" r="2.4"/>
<circle cx="182.1" cy="616.9" r="2.4"/>
<circle cx="179.9" cy="618.9" r="2.4"/>
<circle cx="111.6" cy="619.2" r="2.4"/>
<circle cx="167.9" cy="620.5" r="2.4"/>
<circle cx="182.8" cy="616.3" r="2.4"/>
<circle cx="145.8" cy="611.3" r="2.4"/>
<circle cx="182.0" cy="617.8" r="2.4"/>
<circle cx="178.8" cy="621.0" r="2.4"/>
<circle cx="169.6" cy="615.4" r="2.4"/>
<circle cx="123.8" cy="617.8" r="2.4"/>
<circle cx="120.9" cy="614.3" r="2.4"/>
<circle cx="176.8" cy="618.3" r="2.4"/>
<circle cx="148.7" cy="615.4" r="2.4"/>
<circle cx="141.7" cy="618.7" r="2.4"/>
<circle cx="100.3" cy="616.2" r="2.4"/>
<circle cx="99.0" cy="620.2" r="2.4"/>
<circle cx="113.4" cy="619.9" r="2.4"/>
<circle cx="146.4" cy="617.9" r="2.4"/>
<circle cx="146.3" cy="620.1" r="2.4"/>
<circle cx="120.0" cy="620.4" r="2.4"/>
<circle cx="142.2" cy="621.5" r="2.4"/>
<circle cx="177.0" cy="619.4" r="2.4"/>
<circle cx="142.1" cy="620.7" r="2.4"/>
<circle cx="137.5" cy="618.5" r="2.4"/>
<circle cx="179.5" cy="620.9" r="2.4"/>
<circle cx="179.5" cy="618.7" r="2.4"/>
<circle cx="179.6" cy="619.8" r="2.4"/>
<circle cx="110.4" cy="617.8" r="2.4"/>
<circle cx="104.9" cy="614.7" r="2.4"/>
<circle cx="156.1" cy="619.2" r="2.4"/>
<circle cx="160.1" cy="615.0" r="2.4"/>
<circle cx="174.4" cy="617.9" r="2.4"/>
<circle cx="117.5" cy="617.0" r="2.4"/>
<circle cx="183.6" cy="619.6" r="2.4"/>
<circle cx="112.5" cy="618.4" r="2.4"/>
<circle cx="127.8" cy="615.1" r="2.4"/>
<circle cx="160.6" cy="618.9" r="2.4"/>
<circle cx="136.5" cy="616.7" r="2.4"/>
<circle cx="152.2" cy="613.6" r="2.4"/>
<circle cx="183.2" cy="619.2" r="2.4"/>
<circle cx="121.4" cy="620.5" r="2.4"/>
<circle cx="121.9" cy="616.7" r="2.4"/>
<circle cx="176.9" cy="618.4" r="2.4"/>
<circle cx="120.9" cy="621.8" r="2.4"/>
<circle cx="147.6" cy="619.0" r="2.4"/>
<circle cx="157.7" cy="614.0" r="2.4"/>
<circle cx="179.2" cy="620.4" r="2.4"/>
<circle cx="105.8" cy="618.8" r="2.4"/>
<circle cx="104.4" cy="617.1" r="2.4"/>
<circle cx="146.1" cy="618.9" r="2.4"/>
<circle cx="121.6" cy="617.9" r="2.4"/>
<circle cx="119.1" cy="615.1" r="2.4"/>
<circle cx="103.0" cy="616.3" r="2.4"/>
<circle cx="124.8" cy="618.0" r="2.4"/>
<circle cx="113.9" cy="615.0" r="2.4"/>
<circle cx="120.2" cy="620.0" r="2.4"/>
<circle cx="146.0" cy="617.3" r="2.4"/>
<circle cx="178.9" cy="620.6" r="2.4"/>
<circle cx="135.8" cy="621.8" r="2.4"/>
<circle cx="132.4" cy="620.8" r="2.4"/>
<circle cx="183.0" cy="619.8" r="2.4"/>
<circle cx="159.3" cy="617.4" r="2.4"/>
<circle cx="128.5" cy="613.4" r="2.4"/>
<circle cx="104.7" cy="620.3" r="2.4"/>
<circle cx="120.6" cy="614.0" r="2.4"/>
<circle cx="170.9" cy="617.9" r="2.4"/>
<circle cx="119.4" cy="617.6" r="2.4"/>
<circle cx="112.2" cy="616.7" r="2.4"/>
<circle cx="181.2" cy="617.4" r="2.4"/>
<circle cx="145.6" cy="623.6" r="2.4"/>
<circle cx="125.2" cy="608.4" r="2.4"/>
<circle cx="131.4" cy="619.0" r="2.4"/>
<circle cx="115.9" cy="614.7" r="2.4"/>
<circle cx="121.3" cy="616.8" r="2.4"/>
<circle cx="102.2" cy="616.3" r="2.4"/>
<circle cx="118.6" cy="618.3" r="2.4"/>
<circle cx="163.1" cy="620.0" r="2.4"/>
<circle cx="174.1" cy="616.7" r="2.4"/>
<circle cx="183.2" cy="619.0" r="2.4"/>
<circle cx="153.9" cy="621.1" r="2.4"/>
<circle cx="175.2" cy="620.0" r="2.4"/>
<circle cx="168.4" cy="617.9" r="2.4"/>
<circle cx="142.0" cy="619.5" r="2.4"/>
<circle cx="148.8" cy="615.7" r="2.4"/>
<circle cx="157.3" cy="615.5" r="2.4"/>
<circle cx="101.3" cy="617.0" r="2.4"/>
<circle cx="107.7" cy="616.4" r="2.4"/>
<circle cx="152.4" cy="617.8" r="2.4"/>
<circle cx="98.9" cy="617.7" r="2.4"/>
<circle cx="162.9" cy="618.4" r="2.4"/>
<circle cx="155.3" cy="620.1" r="2.4"/>
<circle cx="120.3" cy="615.7" r="2.4"/>
<circle cx="161.3" cy="620.5" r="2.4"/>
<circle cx="182.4" cy="616.6" r="2.4"/>
<circle cx="139.8" cy="622.4" r="2.4"/>
<circle cx="151.6" cy="613.8" r="2.4"/>
<circle cx="111.3" cy="619.9" r="2.4"/>
<circle cx="124.8" cy="609.1" r="2.4"/>
<circle cx="103.9" cy="619.3" r="2.4"/>
<circle cx="158.1" cy="616.2" r="2.4"/>
<circle cx="143.0" cy="617.2" r="2.4"/>
<circle cx="108.8" cy="619.9" r="2.4"/>
<circle cx="179.0" cy="618.1" r="2.4"/>
<circle cx="169.0" cy="622.0" r="2.4"/>
<circle cx="137.2" cy="615.5" r="2.4"/>
<circle cx="179.8" cy="618.7" r="2.4"/>
<circle cx="110.8" cy="621.3" r="2.4"/>
<circle cx="110.0" cy="615.2" r="2.4"/>
<circle cx="159.0" cy="622.1" r="2.4"/>
<circle cx="140.4" cy="613.3" r="2.4"/>
<circle cx="140.9" cy="616.5" r="2.4"/>
<circle cx="110.7" cy="617.0" r="2.4"/>
<circle cx="170.8" cy="619.8" r="2.4"/>
<circle cx="170.7" cy="621.3" r="2.4"/>
<circle cx="159.9" cy="618.3" r="2.4"/>
<circle cx="123.5" cy="615.4" r="2.4"/>
<circle cx="184.4" cy="616.4" r="2.4"/>
<circle cx="135.4" cy="613.5" r="2.4"/>
<circle cx="107.4" cy="617.7" r="2.4"/>
<circle cx="120.1" cy="618.0" r="2.4"/>
<circle cx="114.9" cy="621.7" r="2.4"/>
<circle cx="174.6" cy="622.0" r="2.4"/>
<circle cx="152.8" cy="620.4" r="2.4"/>
<circle cx="160.4" cy="620.6" r="2.4"/>
<circle cx="137.4" cy="617.8" r="2.4"/>
<circle cx="154.0" cy="613.5" r="2.4"/>
<circle cx="178.2" cy="618.4" r="2.4"/>
<circle cx="128.2" cy="621.1" r="2.4"/>
<circle cx="182.5" cy="618.7" r="2.4"/>
<circle cx="124.5" cy="614.9" r="2.4"/>
<circle cx="113.0" cy="616.3" r="2.4"/>
<circle cx="176.4" cy="616.6" r="2.4"/>
<circle cx="176.5" cy="617.7" r="2.4"/>
<circle cx="115.2" cy="617.3" r="2.4"/>
<circle cx="106.5" cy="616.3" r="2.4"/>
<circle cx="147.6" cy="618.8" r="2.4"/>
<circle cx="163.0" cy="617.3" r="2.4"/>
<circle cx="143.6" cy="614.9" r="2.4"/>
<circle cx="104.0" cy="621.6" r="2.4"/>
<circle cx="109.5" cy="619.0" r="2.4"/>
<circle cx="172.7" cy="615.9" r="2.4"/>
<circle cx="120.0" cy="617.4" r="2.4"/>
<circle cx="180.5" cy="618.7" r="2.4"/>
<circle cx="101.4" cy="618.3" r="2.4"/>
<circle cx="175.5" cy="619.0" r="2.4"/>
<circle cx="98.7" cy="620.8" r="2.4"/>
<circle cx="169.5" cy="619.7" r="2.4"/>
<circle cx="108.0" cy="618.2" r="2.4"/>
<circle cx="157.2" cy="618.3" r="2.4"/>
<circle cx="160.6" cy="620.8" r="2.4"/>
<circle cx="137.9" cy="613.8" r="2.4"/>
<circle cx="165.8" cy="621.3" r="2.4"/>
<circle cx="154.1" cy="614.2" r="2.4"/>
<circle cx="120.3" cy="619.7" r="2.4"/>
<circle cx="108.3" cy="618.3" r="2.4"/>
<circle cx="148.7" cy="615.3" r="2.4"/>
<circle cx="150.3" cy="616.0" r="2.4"/>
<circle cx="138.2" cy="616.5" r="2.4"/>
<circle cx="139.5" cy="616.4" r="2.4"/>
<circle cx="181.1" cy="615.9" r="2.4"/>
<circle cx="125.0" cy="616.1" r="2.4"/>
<circle cx="156.6" cy="615.7" r="2.4"/>
<circle cx="155.9" cy="618.6" r="2.4"/>
<circle cx="127.7" cy="620.1" r="2.4"/>
<circle cx="115.7" cy="618.9" r="2.4"/>
<circle cx="162.1" cy="615.5" r="2.4"/>
<circle cx="181.9" cy="620.1" r="2.4"/>
<circle cx="118.5" cy="620.3" r="2.4"/>
<circle cx="124.0" cy="617.5" r="2.4"/>
<circle cx="117.8" cy="619.5" r="2.4"/>
<circle cx="180.1" cy="617.3" r="2.4"/>
<circle cx="116.9" cy="618.5" r="2.4"/>
<circle cx="110.8" cy="615.3" r="2.4"/>
<circle cx="132.4" cy="620.4" r="2.4"/>
<circle cx="184.3" cy="616.8" r="2.4"/>
<circle cx="126.9" cy="623.3" r="2.4"/>
<circle cx="162.7" cy="619.6" r="2.4"/>
<circle cx="131.2" cy="617.2" r="2.4"/>
<circle cx="113.2" cy="616.8" r="2.4"/>
<circle cx="128.8" cy="621.4" r="2.4"/>
<circle cx="116.5" cy="620.8" r="2.4"/>
<circle cx="169.2" cy="613.6" r="2.4"/>
<circle cx="139.3" cy="623.9" r="2.4"/>
<circle cx="115.2" cy="621.3" r="2.4"/>
<circle cx="101.2" cy="620.4" r="2.4"/>
<circle cx="164.5" cy="613.9" r="2.4"/>
<circle cx="104.0" cy="621.4" r="2.4"/>
<circle cx="120.7" cy="619.7" r="2.4"/>
<circle cx="122.0" cy="617.6" r="2.4"/>
<circle cx="151.6" cy="620.1" r="2.4"/>
<circle cx="125.8" cy="608.3" r="2.4"/>
<circle cx="163.5" cy="615.9" r="2.4"/>
<circle cx="100.7" cy="618.0" r="2.4"/>
<circle cx="180.8" cy="615.6" r="2.4"/>
<circle cx="131.8" cy="618.1" r="2.4"/>
<circle cx="141.0" cy="619.7" r="2.4"/>
<circle cx="162.0" cy="621.1" r="2.4"/>
<circle cx="165.0" cy="616.4" r="2.4"/>
<circle cx="126.1" cy="620.6" r="2.4"/>
<circle cx="105.4" cy="619.9" r="2.4"/>
<circle cx="119.9" cy="613.7" r="2.4"/>
<circle cx="146.1" cy="623.6" r="2.4"/>
<circle cx="174.5" cy="618.4" r="2.4"/>
<circle cx="106.9" cy="619.5" r="2.4"/>
<circle cx="137.0" cy="617.7" r="2.4"/>
<circle cx="151.9" cy="620.4" r="2.4"/>
<circle cx="171.4" cy="614.1" r="2.4"/>
<circle cx="170.8" cy="618.1" r="2.4"/>
<circle cx="130.7" cy="619.2" r="2.4"/>
<circle cx="115.8" cy="616.5" r="2.4"/>
<circle cx="111.8" cy="617.2" r="2.4"/>
<circle cx="132.7" cy="617.8" r="2.4"/>
<circle cx="142.2" cy="622.2" r="2.4"/>
<circle cx="154.7" cy="620.0" r="2.4"/>
<circle cx="169.0" cy="619.6" r="2.4"/>
<circle cx="177.1" cy="617.3" r="2.4"/>
<circle cx="108.9" cy="621.2" r="2.4"/>
<circle cx="148.7" cy="616.3" r="2.4"/>
<circle cx="137.2" cy="621.6" r="2.4"/>
<circle cx="179.8" cy="618.8" r="2.4"/>
<circle cx="151.9" cy="616.7" r="2.4"/>
<circle cx="110.8" cy="616.6" r="2.4"/>
<circle cx="150.1" cy="615.0" r="2.4"/>
<circle cx="99.6" cy="619.5" r="2.4"/>
<circle cx="114.5" cy="616.3" r="2.4"/>
<circle cx="166.9" cy="614.0" r="2.4"/>
<circle cx="107.4" cy="618.4" r="2.4"/>
<circle cx="153.5" cy="614.6" r="2.4"/>
<circle cx="158.4" cy="616.1" r="2.4"/>
<circle cx="125.1" cy="620.8" r="2.4"/>
<circle cx="125.5" cy="613.7" r="2.4"/>
<circle cx="134.4" cy="620.0" r="2.4"/>
<circle cx="115.6" cy="618.5" r="2.4"/>
<circle cx="116.1" cy="621.4" r="2.4"/>
<circle cx="135.0" cy="615.7" r="2.4"/>
<circle cx="138.2" cy="613.6" r="2.4"/>
<circle cx="146.0" cy="622.8" r="2.4"/>
<circle cx="106.3" cy="617.1" r="2.4"/>
<circle cx="142.0" cy="615.4" r="2.4"/>
<circle cx="143.4" cy="620.3" r="2.4"/>
<circle cx="108.0" cy="620.1" r="2.4"/>
<circle cx="181.7" cy="614.9" r="2.4"/>
<circle cx="179.6" cy="618.0" r="2.4"/>
<circle cx="178.2" cy="621.3" r="2.4"/>
<circle cx="151.9" cy="618.6" r="2.4"/>
<circle cx="112.4" cy="618.8" r="2.4"/>
<circle cx="171.3" cy="620.1" r="2.4"/>
<circle cx="114.4" cy="617.7" r="2.4"/>
<circle cx="143.1" cy="612.3" r="2.4"/>
<circle cx="119.9" cy="618.9" r="2.4"/>
<circle cx="146.9" cy="618.2" r="2.4"/>
<circle cx="101.9" cy="620.1" r="2.4"/>
<circle cx="145.9" cy="615.1" r="2.4"/>
<circle cx="134.7" cy="617.4" r="2.4"/>
<circle cx="155.2" cy="617.2" r="2.4"/>
<circle cx="100.7" cy="618.1" r="2.4"/>
<circle cx="118.8" cy="620.0" r="2.4"/>
<circle cx="165.6" cy="615.1" r="2.4"/>
<circle cx="139.3" cy="615.0" r="2.4"/>
<circle cx="135.6" cy="617.7" r="2.4"/>
<circle cx="142.4" cy="619.8" r="2.4"/>
<circle cx="105.7" cy="618.8" r="2.4"/>
<circle cx="103.3" cy="616.9" r="2.4"/>
<circle cx="180.3" cy="620.6" r="2.4"/>
<circle cx="184.2" cy="616.6" r="2.4"/>
<circle cx="168.6" cy="621.8" r="2.4"/>
<circle cx="140.9" cy="619.3" r="2.4"/>
<circle cx="166.3" cy="618.0" r="2.4"/>
<circle cx="104.3" cy="619.9" r="2.4"/>
<circle cx="112.3" cy="618.0" r="2.4"/>
<circle cx="111.0" cy="621.0" r="2.4"/>
<circle cx="116.5" cy="618.3" r="2.4"/>
<circle cx="126.0" cy="611.4" r="2.4"/>
<circle cx="112.5" cy="621.4" r="2.4"/>
<circle cx="157.0" cy="619.9" r="2.4"/>
<circle cx="108.5" cy="619.0" r="2.4"/>
<circle cx="129.5" cy="620.9" r="2.4"/>
<circle cx="146.3" cy="622.4" r="2.4"/>
<circle cx="107.6" cy="617.4" r="2.4"/>
<circle cx="167.1" cy="621.9" r="2.4"/>
<circle cx="148.2" cy="620.8" r="2.4"/>
<circle cx="136.6" cy="621.1" r="2.4"/>
<circle cx="102.8" cy="617.3" r="2.4"/>
<circle cx="120.4" cy="622.4" r="2.4"/>
<circle cx="148.9" cy="616.2" r="2.4"/>
<circle cx="98.8" cy="616.7" r="2.4"/>
<circle cx="151.5" cy="618.1" r="2.4"/>
<circle cx="175.5" cy="616.4" r="2.4"/>
<circle cx="154.7" cy="613.0" r="2.4"/>
<circle cx="129.1" cy="616.9" r="2.4"/>
<circle cx="117.9" cy="618.9" r="2.4"/>
<circle cx="116.2" cy="618.1" r="2.4"/>
<circle cx="110.2" cy="618.5" r="2.4"/>
<circle cx="106.9" cy="620.6" r="2.4"/>
<circle cx="165.8" cy="615.8" r="2.4"/>
<circle cx="99.6" cy="618.8" r="2.4"/>
<circle cx="128.7" cy="617.7" r="2.4"/>
<circle cx="179.1" cy="619.4" r="2.4"/>
<circle cx="120.0" cy="620.4" r="2.4"/>
<circle cx="133.5" cy="613.8" r="2.4"/>
<circle cx="165.5" cy="618.2" r="2.4"/>
<circle cx="179.4" cy="616.2" r="2.4"/>
<circle cx="150.9" cy="619.4" r="2.4"/>
<circle cx="168.5" cy="616.0" r="2.4"/>
<circle cx="124.4" cy="621.9" r="2.4"/>
<circle cx="165.9" cy="619.0" r="2.4"/>
<circle cx="99.2" cy="618.4" r="2.4"/>
<circle cx="162.3" cy="615.7" r="2.4"/>
<circle cx="107.7" cy="615.0" r="2.4"/>
<circle cx="127.5" cy="616.7" r="2.4"/>
<circle cx="256.6" cy="616.8" r="2.4"/>
<circle cx="246.4" cy="612.9" r="2.4"/>
<circle cx="274.1" cy="619.2" r="2.4"/>
<circle cx="236.3" cy="618.8" r="2.4"/>
<circle cx="259.3" cy="614.4" r="2.4"/>
<circle cx="276.5" cy="608.5" r="2.4"/>
<circle cx="243.7" cy="614.5" r="2.4"/>
<circle cx="274.1" cy="609.3" r="2.4"/>
<circle cx="240.7" cy="616.7" r="2.4"/>
<circle cx="235.8" cy="613.2" r="2.4"/>
<circle cx="281.5" cy="620.1" r="2.4"/>
<circle cx="232.5" cy="619.4" r="2.4"/>
<circle cx="271.4" cy="619.2" r="2.4"/>
<circle cx="251.2" cy="618.5" r="2.4"/>
<circle cx="232.8" cy="615.1" r="2.4"/>
<circle cx="228.7" cy="618.8" r="2.4"/>
<circle cx="265.7" cy="617.7" r="2.4"/>
<circle cx="252.8" cy="617.6" r="2.4"/>
<circle cx="249.5" cy="618.2" r="2.4"/>
<circle cx="259.0" cy="615.9" r="2.4"/>
<circle cx="250.4" cy="619.4" r="2.4"/>
<circle cx="276.2" cy="615.8" r="2.4"/>
<circle cx="264.9" cy="615.2" r="2.4"/>
<circle cx="244.4" cy="612.2" r="2.4"/>
<circle cx="250.3" cy="613.8" r="2.4"/>
<circle cx="266.8" cy="612.7" r="2.4"/>
<circle cx="250.6" cy="618.3" r="2.4"/>
<circle cx="249.8" cy="621.8" r="2.4"/>
<circle cx="237.1" cy="619.0" r="2.4"/>
<circle cx="248.6" cy="622.3" r="2.4"/>
<circle cx="228.9" cy="614.9" r="2.4"/>
<circle cx="270.7" cy="616.1" r="2.4"/>
<circle cx="259.0" cy="618.3" r="2.4"/>
<circle cx="255.5" cy="620.1" r="2.4"/>
<circle cx="256.1" cy="621.8" r="2.4"/>
<circle cx="238.6" cy="615.0" r="2.4"/>
<circle cx="269.6" cy="623.0" r="2.4"/>
<circle cx="246.7" cy="614.3" r="2.4"/>
<circle cx="249.2" cy="615.9" r="2.4"/>
<circle cx="250.4" cy="615.2" r="2.4"/>
<circle cx="241.7" cy="619.3" r="2.4"/>
<circle cx="279.5" cy="609.0" r="2.4"/>
<circle cx="271.8" cy="611.6" r="2.4"/>
<circle cx="234.1" cy="616.7" r="2.4"/>
<circle cx="272.2" cy="615.3" r="2.4"/>
<circle cx="258.3" cy="622.0" r="2.4"/>
<circle cx="246.6" cy="620.5" r="2.4"/>
<circle cx="272.6" cy="612.4" r="2.4"/>
<circle cx="257.6" cy="620.0" r="2.4"/>
<circle cx="246.7" cy="616.6" r="2.4"/>
<circle cx="241.0" cy="612.9" r="2.4"/>
<circle cx="227.0" cy="618.3" r="2.4"/>
<circle cx="242.6" cy="614.4" r="2.4"/>
<circle cx="253.7" cy="617.8" r="2.4"/>
<circle cx="263.8" cy="621.6" r="2.4"/>
<circle cx="274.7" cy="620.7" r="2.4"/>
<circle cx="277.6" cy="618.7" r="2.4"/>
<circle cx="262.3" cy="608.4" r="2.4"/>
<circle cx="280.2" cy="609.5" r="2.4"/>
<circle cx="232.5" cy="614.1" r="2.4"/>
<circle cx="270.4" cy="611.7" r="2.4"/>
<circle cx="277.5" cy="619.1" r="2.4"/>
<circle cx="236.2" cy="614.6" r="2.4"/>
<circle cx="264.3" cy="615.0" r="2.4"/>
<circle cx="271.0" cy="617.6" r="2.4"/>
<circle cx="256.6" cy="619.1" r="2.4"/>
<circle cx="251.4" cy="615.6" r="2.4"/>
<circle cx="239.9" cy="616.3" r="2.4"/>
<circle cx="230.1" cy="614.3" r="2.4"/>
<circle cx="254.4" cy="616.3" r="2.4"/>
<circle cx="275.2" cy="620.9" r="2.4"/>
<circle cx="253.1" cy="618.3" r="2.4"/>
<circle cx="274.0" cy="613.8" r="2.4"/>
<circle cx="280.7" cy="616.7" r="2.4"/>
<circle cx="262.5" cy="617.0" r="2.4"/>
<circle cx="265.1" cy="616.4" r="2.4"/>
<circle cx="245.3" cy="615.0" r="2.4"/>
<circle cx="277.2" cy="618.4" r="2.4"/>
<circle cx="261.9" cy="620.6" r="2.4"/>
<circle cx="247.3" cy="617.2" r="2.4"/>
<circle cx="270.0" cy="615.7" r="2.4"/>
<circle cx="250.5" cy="620.6" r="2.4"/>
<circle cx="243.2" cy="616.7" r="2.4"/>
<circle cx="249.4" cy="614.3" r="2.4"/>
<circle cx="255.2" cy="615.2" r="2.4"/>
<circle cx="245.4" cy="614.6" r="2.4"/>
<circle cx="259.7" cy="619.3" r="2.4"/>
<circle cx="229.0" cy="614.5" r="2.4"/>
<circle cx="276.5" cy="605.8" r="2.4"/>
<circle cx="243.7" cy="613.2" r="2.4"/>
<circle cx="278.5" cy="617.2" r="2.4"/>
<circle cx="271.1" cy="615.1" r="2.4"/>
<circle cx="262.0" cy="616.8" r="2.4"/>
<circle cx="265.0" cy="618.1" r="2.4"/>
<circle cx="252.5" cy="615.4" r="2.4"/>
<circle cx="232.5" cy="612.7" r="2.4"/>
<circle cx="270.3" cy="615.9" r="2.4"/>
<circle cx="272.9" cy="615.5" r="2.4"/>
<circle cx="258.3" cy="611.7" r="2.4"/>
<circle cx="250.5" cy="616.1" r="2.4"/>
<circle cx="262.8" cy="618.8" r="2.4"/>
<circle cx="229.0" cy="618.9" r="2.4"/>
<circle cx="259.1" cy="617.5" r="2.4"/>
<circle cx="251.8" cy="615.3" r="2.4"/>
<circle cx="260.0" cy="618.6" r="2.4"/>
<circle cx="249.9" cy="618.5" r="2.4"/>
<circle cx="238.7" cy="610.7" r="2.4"/>
<circle cx="227.1" cy="615.3" r="2.4"/>
<circle cx="281.0" cy="620.9" r="2.4"/>
<circle cx="234.0" cy="617.8" r="2.4"/>
<circle cx="240.4" cy="616.6" r="2.4"/>
<circle cx="237.3" cy="619.1" r="2.4"/>
<circle cx="266.8" cy="616.7" r="2.4"/>
<circle cx="262.1" cy="616.1" r="2.4"/>
<circle cx="252.6" cy="616.7" r="2.4"/>
<circle cx="267.0" cy="609.5" r="2.4"/>
<circle cx="263.3" cy="620.9" r="2.4"/>
<circle cx="231.3" cy="617.9" r="2.4"/>
<circle cx="236.1" cy="616.2" r="2.4"/>
<circle cx="247.4" cy="616.2" r="2.4"/>
<circle cx="264.8" cy="619.9" r="2.4"/>
<circle cx="247.2" cy="618.4" r="2.4"/>
<circle cx="250.2" cy="620.2" r="2.4"/>
<circle cx="279.8" cy="616.8" r="2.4"/>
<circle cx="258.6" cy="608.1" r="2.4"/>
<circle cx="281.4" cy="617.5" r="2.4"/>
<circle cx="260.8" cy="615.5" r="2.4"/>
<circle cx="273.4" cy="612.2" r="2.4"/>
<circle cx="250.8" cy="615.1" r="2.4"/>
<circle cx="260.6" cy="618.5" r="2.4"/>
<circle cx="272.1" cy="608.2" r="2.4"/>
<circle cx="241.6" cy="617.5" r="2.4"/>
<circle cx="272.6" cy="619.7" r="2.4"/>
<circle cx="272.3" cy="617.6" r="2.4"/>
<circle cx="258.9" cy="620.3" r="2.4"/>
<circle cx="272.1" cy="622.1" r="2.4"/>
<circle cx="246.3" cy="617.5" r="2.4"/>
<circle cx="271.5" cy="619.7" r="2.4"/>
<circle cx="279.1" cy="616.2" r="2.4"/>
<circle cx="264.8" cy="611.7" r="2.4"/>
<circle cx="241.1" cy="617.3" r="2.4"/>
<circle cx="231.7" cy="615.1" r="2.4"/>
<circle cx="270.1" cy="617.6" r="2.4"/>
<circle cx="277.1" cy="615.0" r="2.4"/>
<circle cx="259.9" cy="610.4" r="2.4"/>
<circle cx="236.9" cy="616.6" r="2.4"/>
<circle cx="247.2" cy="615.8" r="2.4"/>
<circle cx="255.8" cy="608.6" r="2.4"/>
<circle cx="282.7" cy="607.2" r="2.4"/>
<circle cx="262.3" cy="618.0" r="2.4"/>
<circle cx="246.2" cy="611.4" r="2.4"/>
<circle cx="228.7" cy="618.6" r="2.4"/>
<circle cx="275.4" cy="615.9" r="2.4"/>
<circle cx="241.5" cy="613.3" r="2.4"/>
<circle cx="269.8" cy="618.5" r="2.4"/>
<circle cx="280.9" cy="605.6" r="2.4"/>
<circle cx="238.1" cy="611.6" r="2.4"/>
<circle cx="229.7" cy="619.1" r="2.4"/>
<circle cx="252.5" cy="617.3" r="2.4"/>
<circle cx="260.4" cy="609.4" r="2.4"/>
<circle cx="280.6" cy="615.3" r="2.4"/>
<circle cx="262.7" cy="616.5" r="2.4"/>
<circle cx="264.4" cy="615.0" r="2.4"/>
<circle cx="235.8" cy="617.9" r="2.4"/>
<circle cx="229.0" cy="616.0" r="2.4"/>
<circle cx="277.4" cy="616.7" r="2.4"/>
<circle cx="273.8" cy="620.0" r="2.4"/>
<circle cx="266.6" cy="622.7" r="2.4"/>
<circle cx="229.9" cy="618.3" r="2.4"/>
<circle cx="279.5" cy="610.5" r="2.4"/>
<circle cx="260.0" cy="617.9" r="2.4"/>
<circle cx="241.2" cy="616.3" r="2.4"/>
<circle cx="236.3" cy="612.7" r="2.4"/>
<circle cx="264.8" cy="618.8" r="2.4"/>
<circle cx="237.7" cy="620.8" r="2.4"/>
<circle cx="239.2" cy="617.7" r="2.4"/>
<circle cx="275.4" cy="617.9" r="2.4"/>
<circle cx="232.2" cy="618.1" r="2.4"/>
<circle cx="274.1" cy="614.3" r="2.4"/>
<circle cx="245.9" cy="614.6" r="2.4"/>
<circle cx="234.8" cy="612.2" r="2.4"/>
<circle cx="266.8" cy="611.2" r="2.4"/>
<circle cx="275.6" cy="613.0" r="2.4"/>
<circle cx="235.5" cy="619.2" r="2.4"/>
<circle cx="245.6" cy="616.8" r="2.4"/>
<circle cx="244.6" cy="617.1" r="2.4"/>
<circle cx="233.2" cy="619.8" r="2.4"/>
<circle cx="264.3" cy="615.4" r="2.4"/>
<circle cx="242.9" cy="613.2" r="2.4"/>
<circle cx="247.2" cy="618.0" r="2.4"/>
<circle cx="282.8" cy="617.9" r="2.4"/>
<circle cx="277.1" cy="618.6" r="2.4"/>
<circle cx="243.3" cy="617.6" r="2.4"/>
<circle cx="227.7" cy="616.3" r="2.4"/>
<circle cx="226.9" cy="617.5" r="2.4"/>
<circle cx="256.3" cy="614.1" r="2.4"/>
<circle cx="278.0" cy="615.6" r="2.4"/>
<circle cx="234.5" cy="618.4" r="2.4"/>
<circle cx="266.7" cy="610.3" r="2.4"/>
<circle cx="231.7" cy="616.1" r="2.4"/>
<circle cx="242.2" cy="617.9" r="2.4"/>
<circle cx="266.5" cy="615.9" r="2.4"/>
<circle cx="230.5" cy="616.3" r="2.4"/>
<circle cx="249.7" cy="619.5" r="2.4"/>
<circle cx="245.6" cy="617.8" r="2.4"/>
<circle cx="275.3" cy="605.9" r="2.4"/>
<circle cx="277.9" cy="621.3" r="2.4"/>
<circle cx="241.7" cy="620.4" r="2.4"/>
<circle cx="247.4" cy="615.4" r="2.4"/>
<circle cx="260.2" cy="615.4" r="2.4"/>
<circle cx="251.8" cy="612.2" r="2.4"/>
<circle cx="266.9" cy="617.7" r="2.4"/>
<circle cx="266.7" cy="619.5" r="2.4"/>
<circle cx="230.2" cy="615.7" r="2.4"/>
<circle cx="280.3" cy="614.4" r="2.4"/>
<circle cx="256.6" cy="607.8" r="2.4"/>
<circle cx="281.1" cy="608.3" r="2.4"/>
<circle cx="232.6" cy="618.2" r="2.4"/>
<circle cx="228.5" cy="618.3" r="2.4"/>
<circle cx="237.7" cy="617.3" r="2.4"/>
<circle cx="259.1" cy="618.0" r="2.4"/>
<circle cx="232.6" cy="616.7" r="2.4"/>
<circle cx="233.7" cy="616.0" r="2.4"/>
<circle cx="242.5" cy="615.5" r="2.4"/>
<circle cx="234.5" cy="619.1" r="2.4"/>
<circle cx="235.1" cy="618.3" r="2.4"/>
<circle cx="236.0" cy="616.3" r="2.4"/>
<circle cx="279.4" cy="612.7" r="2.4"/>
<circle cx="273.9" cy="613.4" r="2.4"/>
<circle cx="279.6" cy="616.2" r="2.4"/>
<circle cx="245.6" cy="622.4" r="2.4"/>
<circle cx="271.9" cy="617.8" r="2.4"/>
<circle cx="272.5" cy="618.6" r="2.4"/>
<circle cx="280.5" cy="617.4" r="2.4"/>
<circle cx="240.8" cy="618.0" r="2.4"/>
<circle cx="247.2" cy="611.9" r="2.4"/>
<circle cx="251.1" cy="611.4" r="2.4"/>
<circle cx="234.6" cy="617.4" r="2.4"/>
<circle cx="262.3" cy="613.1" r="2.4"/>
<circle cx="276.4" cy="619.0" r="2.4"/>
<circle cx="241.7" cy="613.9" r="2.4"/>
<circle cx="257.2" cy="617.3" r="2.4"/>
<circle cx="261.7" cy="615.6" r="2.4"/>
<circle cx="251.1" cy="616.5" r="2.4"/>
<circle cx="263.1" cy="616.9" r="2.4"/>
<circle cx="280.4" cy="609.9" r="2.4"/>
<circle cx="253.0" cy="611.8" r="2.4"/>
<circle cx="233.8" cy="614.4" r="2.4"/>
<circle cx="249.6" cy="613.9" r="2.4"/>
<circle cx="231.7" cy="618.5" r="2.4"/>
<circle cx="261.0" cy="617.4" r="2.4"/>
<circle cx="238.1" cy="618.1" r="2.4"/>
<circle cx="252.7" cy="617.8" r="2.4"/>
<circle cx="253.1" cy="612.9" r="2.4"/>
<circle cx="239.2" cy="615.0" r="2.4"/>
<circle cx="259.7" cy="612.8" r="2.4"/>
<circle cx="275.2" cy="615.8" r="2.4"/>
<circle cx="254.4" cy="622.4" r="2.4"/>
<circle cx="243.4" cy="617.1" r="2.4"/>
<circle cx="275.7" cy="606.5" r="2.4"/>
<circle cx="248.6" cy="619.6" r="2.4"/>
<circle cx="232.9" cy="619.4" r="2.4"/>
<circle cx="268.2" cy="614.1" r="2.4"/>
<circle cx="246.6" cy="618.2" r="2.4"/>
<circle cx="274.5" cy="617.3" r="2.4"/>
<circle cx="255.8" cy="616.7" r="2.4"/>
<circle cx="253.5" cy="614.1" r="2.4"/>
<circle cx="266.5" cy="619.1" r="2.4"/>
<circle cx="227.0" cy="619.1" r="2.4"/>
<circle cx="259.7" cy="622.0" r="2.4"/>
<circle cx="258.9" cy="619.3" r="2.4"/>
<circle cx="275.8" cy="612.3" r="2.4"/>
<circle cx="252.2" cy="619.3" r="2.4"/>
<circle cx="243.2" cy="617.3" r="2.4"/>
<circle cx="248.4" cy="620.2" r="2.4"/>
<circle cx="274.5" cy="614.0" r="2.4"/>
<circle cx="237.1" cy="612.5" r="2.4"/>
<circle cx="259.1" cy="608.6" r="2.4"/>
<circle cx="278.4" cy="620.7" r="2.4"/>
<circle cx="273.8" cy="617.3" r="2.4"/>
<circle cx="277.9" cy="605.8" r="2.4"/>
<circle cx="258.5" cy="621.4" r="2.4"/>
<circle cx="270.2" cy="623.2" r="2.4"/>
<circle cx="255.8" cy="618.0" r="2.4"/>
<circle cx="248.7" cy="618.0" r="2.4"/>
<circle cx="246.5" cy="618.4" r="2.4"/>
<circle cx="264.8" cy="610.2" r="2.4"/>
<circle cx="247.8" cy="617.6" r="2.4"/>
<circle cx="259.0" cy="618.6" r="2.4"/>
<circle cx="251.5" cy="622.6" r="2.4"/>
<circle cx="246.1" cy="620.5" r="2.4"/>
<circle cx="236.4" cy="620.8" r="2.4"/>
<circle cx="273.1" cy="609.2" r="2.4"/>
<circle cx="277.0" cy="620.4" r="2.4"/>
<circle cx="282.4" cy="616.4" r="2.4"/>
<circle cx="250.4" cy="614.5" r="2.4"/>
<circle cx="255.5" cy="610.9" r="2.4"/>
<circle cx="237.0" cy="617.2" r="2.4"/>
<circle cx="246.6" cy="616.5" r="2.4"/>
<circle cx="249.9" cy="616.4" r="2.4"/>
<circle cx="244.0" cy="611.1" r="2.4"/>
<circle cx="243.9" cy="614.8" r="2.4"/>
<circle cx="237.8" cy="616.8" r="2.4"/>
<circle cx="241.7" cy="616.9" r="2.4"/>
<circle cx="282.7" cy="612.6" r="2.4"/>
<circle cx="233.6" cy="618.0" r="2.4"/>
<circle cx="232.8" cy="613.6" r="2.4"/>
<circle cx="256.1" cy="615.6" r="2.4"/>
<circle cx="261.2" cy="617.0" r="2.4"/>
<circle cx="270.0" cy="619.4" r="2.4"/>
<circle cx="246.7" cy="614.2" r="2.4"/>
<circle cx="232.4" cy="616.9" r="2.4"/>
<circle cx="259.5" cy="614.2" r="2.4"/>
<circle cx="248.4" cy="621.3" r="2.4"/>
<circle cx="259.5" cy="614.7" r="2.4"/>
<circle cx="240.8" cy="621.4" r="2.4"/>
<circle cx="274.7" cy="621.9" r="2.4"/>
<circle cx="272.6" cy="617.3" r="2.4"/>
<circle cx="280.7" cy="622.5" r="2.4"/>
<circle cx="240.4" cy="618.9" r="2.4"/>
<circle cx="239.2" cy="620.6" r="2.4"/>
<circle cx="254.0" cy="617.6" r="2.4"/>
<circle cx="240.5" cy="614.8" r="2.4"/>
<circle cx="237.3" cy="616.3" r="2.4"/>
<circle cx="233.2" cy="615.1" r="2.4"/>
<circle cx="249.4" cy="612.6" r="2.4"/>
<circle cx="273.1" cy="611.3" r="2.4"/>
<circle cx="237.5" cy="613.4" r="2.4"/>
<circle cx="228.8" cy="616.0" r="2.4"/>
<circle cx="235.5" cy="618.8" r="2.4"/>
<circle cx="301.4" cy="614.3" r="2.4"/>
<circle cx="289.0" cy="616.7" r="2.4"/>
<circle cx="290.2" cy="615.2" r="2.4"/>
<circle cx="306.4" cy="611.1" r="2.4"/>
<circle cx="292.2" cy="617.4" r="2.4"/>
<circle cx="310.4" cy="616.3" r="2.4"/>
<circle cx="300.3" cy="619.9" r="2.4"/>
<circle cx="312.7" cy="608.5" r="2.4"/>
<circle cx="316.1" cy="618.1" r="2.4"/>
<circle cx="308.8" cy="617.6" r="2.4"/>
<circle cx="301.9" cy="619.8" r="2.4"/>
<circle cx="301.3" cy="623.9" r="2.4"/>
<circle cx="292.7" cy="614.5" r="2.4"/>
<circle cx="290.2" cy="616.9" r="2.4"/>
<circle cx="304.6" cy="615.3" r="2.4"/>
<circle cx="307.2" cy="611.0" r="2.4"/>
<circle cx="290.7" cy="614.5" r="2.4"/>
<circle cx="294.8" cy="609.7" r="2.4"/>
<circle cx="309.2" cy="610.6" r="2.4"/>
<circle cx="295.9" cy="614.9" r="2.4"/>
<circle cx="315.8" cy="611.7" r="2.4"/>
<circle cx="314.3" cy="614.0" r="2.4"/>
<circle cx="298.5" cy="613.9" r="2.4"/>
<circle cx="293.8" cy="617.3" r="2.4"/>
<circle cx="302.2" cy="615.7" r="2.4"/>
<circle cx="312.8" cy="610.8" r="2.4"/>
<circle cx="299.3" cy="609.3" r="2.4"/>
<circle cx="297.0" cy="619.3" r="2.4"/>
<circle cx="301.8" cy="613.8" r="2.4"/>
<circle cx="302.4" cy="611.1" r="2.4"/>
<circle cx="291.1" cy="623.7" r="2.4"/>
<circle cx="310.5" cy="616.6" r="2.4"/>
<circle cx="317.0" cy="610.4" r="2.4"/>
<circle cx="303.0" cy="611.3" r="2.4"/>
<circle cx="304.5" cy="621.9" r="2.4"/>
<circle cx="307.4" cy="620.5" r="2.4"/>
<circle cx="307.7" cy="610.8" r="2.4"/>
<circle cx="293.0" cy="620.2" r="2.4"/>
<circle cx="313.0" cy="609.6" r="2.4"/>
<circle cx="307.2" cy="617.4" r="2.4"/>
<circle cx="311.4" cy="616.1" r="2.4"/>
<circle cx="310.2" cy="609.8" r="2.4"/>
<circle cx="312.6" cy="611.8" r="2.4"/>
<circle cx="304.8" cy="620.5" r="2.4"/>
<circle cx="295.8" cy="616.9" r="2.4"/>
<circle cx="307.0" cy="615.5" r="2.4"/>
<circle cx="316.0" cy="613.8" r="2.4"/>
<circle cx="293.5" cy="617.0" r="2.4"/>
<circle cx="291.3" cy="610.5" r="2.4"/>
<circle cx="301.7" cy="613.2" r="2.4"/>
<circle cx="291.6" cy="614.9" r="2.4"/>
<circle cx="294.5" cy="619.6" r="2.4"/>
<circle cx="313.5" cy="616.6" r="2.4"/>
<circle cx="301.2" cy="619.5" r="2.4"/>
<circle cx="303.7" cy="613.4" r="2.4"/>
<circle cx="301.5" cy="622.1" r="2.4"/>
<circle cx="314.9" cy="611.3" r="2.4"/>
<circle cx="301.7" cy="614.2" r="2.4"/>
<circle cx="294.6" cy="612.8" r="2.4"/>
<circle cx="302.2" cy="619.2" r="2.4"/>
<circle cx="316.9" cy="614.8" r="2.4"/>
<circle cx="306.7" cy="618.7" r="2.4"/>
<circle cx="306.4" cy="615.8" r="2.4"/>
<circle cx="316.3" cy="615.3" r="2.4"/>
<circle cx="297.6" cy="622.5" r="2.4"/>
<circle cx="289.8" cy="618.7" r="2.4"/>
<circle cx="301.8" cy="619.3" r="2.4"/>
<circle cx="299.6" cy="615.2" r="2.4"/>
<circle cx="304.2" cy="614.1" r="2.4"/>
<circle cx="292.3" cy="622.1" r="2.4"/>
<circle cx="304.7" cy="621.0" r="2.4"/>
<circle cx="296.2" cy="616.4" r="2.4"/>
<circle cx="296.2" cy="616.8" r="2.4"/>
<circle cx="295.5" cy="609.4" r="2.4"/>
<circle cx="303.7" cy="609.4" r="2.4"/>
<circle cx="300.7" cy="615.8" r="2.4"/>
<circle cx="313.7" cy="615.6" r="2.4"/>
<circle cx="310.6" cy="620.0" r="2.4"/>
<circle cx="309.6" cy="618.3" r="2.4"/>
<circle cx="300.2" cy="624.2" r="2.4"/>
<circle cx="305.1" cy="617.4" r="2.4"/>
<circle cx="292.9" cy="617.6" r="2.4"/>
<circle cx="299.6" cy="618.1" r="2.4"/>
<circle cx="295.1" cy="619.1" r="2.4"/>
<circle cx="301.2" cy="616.9" r="2.4"/>
<circle cx="306.8" cy="613.2" r="2.4"/>
<circle cx="313.9" cy="616.0" r="2.4"/>
<circle cx="298.8" cy="615.1" r="2.4"/>
<circle cx="308.5" cy="617.6" r="2.4"/>
<circle cx="310.1" cy="617.6" r="2.4"/>
<circle cx="309.6" cy="615.3" r="2.4"/>
<circle cx="291.8" cy="620.7" r="2.4"/>
<circle cx="292.2" cy="615.9" r="2.4"/>
<circle cx="294.5" cy="621.2" r="2.4"/>
<circle cx="305.6" cy="608.1" r="2.4"/>
<circle cx="292.2" cy="615.4" r="2.4"/>
<circle cx="294.3" cy="612.2" r="2.4"/>
<circle cx="308.7" cy="609.3" r="2.4"/>
<circle cx="314.0" cy="615.3" r="2.4"/>
<circle cx="312.1" cy="618.0" r="2.4"/>
<circle cx="293.3" cy="621.8" r="2.4"/>
<circle cx="311.9" cy="609.6" r="2.4"/>
<circle cx="312.4" cy="612.1" r="2.4"/>
<circle cx="302.6" cy="621.8" r="2.4"/>
<circle cx="300.3" cy="616.6" r="2.4"/>
<circle cx="306.5" cy="612.3" r="2.4"/>
<circle cx="295.2" cy="616.1" r="2.4"/>
<circle cx="293.9" cy="615.2" r="2.4"/>
<circle cx="305.5" cy="613.0" r="2.4"/>
<circle cx="289.2" cy="613.4" r="2.4"/>
<circle cx="289.6" cy="623.5" r="2.4"/>
<circle cx="290.3" cy="618.6" r="2.4"/>
<circle cx="296.8" cy="616.0" r="2.4"/>
<circle cx="296.5" cy="616.4" r="2.4"/>
<circle cx="316.4" cy="616.2" r="2.4"/>
<circle cx="290.0" cy="620.2" r="2.4"/>
<circle cx="314.0" cy="615.0" r="2.4"/>
<circle cx="299.4" cy="621.4" r="2.4"/>
<circle cx="314.0" cy="614.8" r="2.4"/>
<circle cx="308.5" cy="617.7" r="2.4"/>
<circle cx="310.2" cy="615.6" r="2.4"/>
<circle cx="299.0" cy="614.9" r="2.4"/>
<circle cx="290.7" cy="613.1" r="2.4"/>
<circle cx="317.3" cy="612.9" r="2.4"/>
<circle cx="296.0" cy="613.3" r="2.4"/>
<circle cx="292.9" cy="621.8" r="2.4"/>
<circle cx="302.0" cy="617.7" r="2.4"/>
<circle cx="297.6" cy="609.0" r="2.4"/>
<circle cx="297.6" cy="619.9" r="2.4"/>
<circle cx="304.8" cy="614.6" r="2.4"/>
<circle cx="305.7" cy="610.4" r="2.4"/>
<circle cx="305.6" cy="619.5" r="2.4"/>
<circle cx="299.2" cy="613.6" r="2.4"/>
<circle cx="290.9" cy="622.2" r="2.4"/>
<circle cx="296.9" cy="608.2" r="2.4"/>
<circle cx="293.7" cy="619.0" r="2.4"/>
<circle cx="295.2" cy="610.7" r="2.4"/>
<circle cx="306.2" cy="617.9" r="2.4"/>
<circle cx="307.5" cy="617.6" r="2.4"/>
<circle cx="316.5" cy="609.9" r="2.4"/>
<circle cx="312.2" cy="616.0" r="2.4"/>
<circle cx="294.4" cy="621.8" r="2.4"/>
<circle cx="307.3" cy="617.2" r="2.4"/>
<circle cx="295.1" cy="619.7" r="2.4"/>
<circle cx="307.6" cy="616.9" r="2.4"/>
<circle cx="298.7" cy="614.9" r="2.4"/>
<circle cx="290.3" cy="613.3" r="2.4"/>
<circle cx="303.1" cy="612.3" r="2.4"/>
<circle cx="302.3" cy="623.3" r="2.4"/>
<circle cx="305.1" cy="618.6" r="2.4"/>
<circle cx="309.7" cy="608.6" r="2.4"/>
<circle cx="293.5" cy="620.1" r="2.4"/>
<circle cx="291.6" cy="617.3" r="2.4"/>
<circle cx="301.1" cy="618.3" r="2.4"/>
<circle cx="304.9" cy="616.9" r="2.4"/>
<circle cx="298.5" cy="616.4" r="2.4"/>
<circle cx="310.8" cy="619.0" r="2.4"/>
<circle cx="297.8" cy="618.2" r="2.4"/>
<circle cx="297.0" cy="623.3" r="2.4"/>
<circle cx="292.8" cy="615.4" r="2.4"/>
<circle cx="307.7" cy="616.3" r="2.4"/>
<circle cx="299.4" cy="616.9" r="2.4"/>
<circle cx="291.6" cy="610.0" r="2.4"/>
<circle cx="290.7" cy="616.8" r="2.4"/>
<circle cx="294.2" cy="619.2" r="2.4"/>
<circle cx="299.5" cy="611.2" r="2.4"/>
<circle cx="310.1" cy="616.7" r="2.4"/>
<circle cx="311.3" cy="619.6" r="2.4"/>
<circle cx="303.3" cy="613.6" r="2.4"/>
<circle cx="311.9" cy="611.3" r="2.4"/>
<circle cx="314.8" cy="616.0" r="2.4"/>
<circle cx="290.9" cy="614.3" r="2.4"/>
<circle cx="313.7" cy="613.9" r="2.4"/>
<circle cx="300.7" cy="616.8" r="2.4"/>
<circle cx="316.0" cy="611.0" r="2.4"/>
<circle cx="296.2" cy="614.8" r="2.4"/>
<circle cx="295.6" cy="620.0" r="2.4"/>
<circle cx="307.4" cy="621.3" r="2.4"/>
<circle cx="295.2" cy="610.0" r="2.4"/>
<circle cx="313.7" cy="616.2" r="2.4"/>
<circle cx="312.5" cy="611.4" r="2.4"/>
<circle cx="302.9" cy="619.2" r="2.4"/>
<circle cx="293.6" cy="617.3" r="2.4"/>
<circle cx="302.0" cy="622.8" r="2.4"/>
<circle cx="295.0" cy="614.7" r="2.4"/>
<circle cx="313.7" cy="617.3" r="2.4"/>
<circle cx="317.5" cy="609.8" r="2.4"/>
<circle cx="292.2" cy="618.6" r="2.4"/>
<circle cx="289.3" cy="618.0" r="2.4"/>
<circle cx="291.8" cy="618.8" r="2.4"/>
<circle cx="408.6" cy="623.7" r="2.4"/>
<circle cx="438.2" cy="618.4" r="2.4"/>
<circle cx="395.1" cy="616.6" r="2.4"/>
<circle cx="447.1" cy="612.1" r="2.4"/>
<circle cx="396.0" cy="624.5" r="2.4"/>
<circle cx="359.3" cy="618.4" r="2.4"/>
<circle cx="381.9" cy="615.6" r="2.4"/>
<circle cx="380.7" cy="613.2" r="2.4"/>
<circle cx="435.3" cy="616.7" r="2.4"/>
<circle cx="421.8" cy="619.1" r="2.4"/>
<circle cx="408.6" cy="623.5" r="2.4"/>
<circle cx="358.9" cy="616.0" r="2.4"/>
<circle cx="436.3" cy="617.1" r="2.4"/>
<circle cx="449.1" cy="616.1" r="2.4"/>
<circle cx="426.3" cy="619.9" r="2.4"/>
<circle cx="394.5" cy="619.1" r="2.4"/>
<circle cx="420.3" cy="618.8" r="2.4"/>
<circle cx="408.1" cy="618.2" r="2.4"/>
<circle cx="382.9" cy="613.8" r="2.4"/>
<circle cx="406.2" cy="612.4" r="2.4"/>
<circle cx="371.7" cy="616.7" r="2.4"/>
<circle cx="406.8" cy="617.1" r="2.4"/>
<circle cx="432.7" cy="609.3" r="2.4"/>
<circle cx="433.4" cy="617.9" r="2.4"/>
<circle cx="433.9" cy="616.6" r="2.4"/>
<circle cx="393.4" cy="615.9" r="2.4"/>
<circle cx="433.1" cy="609.0" r="2.4"/>
<circle cx="381.6" cy="615.4" r="2.4"/>
<circle cx="431.7" cy="614.5" r="2.4"/>
<circle cx="366.8" cy="620.5" r="2.4"/>
<circle cx="421.9" cy="616.0" r="2.4"/>
<circle cx="431.3" cy="617.7" r="2.4"/>
<circle cx="392.1" cy="613.8" r="2.4"/>
<circle cx="392.5" cy="615.6" r="2.4"/>
<circle cx="360.4" cy="616.6" r="2.4"/>
<circle cx="364.0" cy="617.9" r="2.4"/>
<circle cx="383.7" cy="614.5" r="2.4"/>
<circle cx="434.5" cy="617.8" r="2.4"/>
<circle cx="436.8" cy="614.2" r="2.4"/>
<circle cx="430.7" cy="613.0" r="2.4"/>
<circle cx="362.8" cy="615.3" r="2.4"/>
<circle cx="423.5" cy="614.4" r="2.4"/>
<circle cx="417.7" cy="618.3" r="2.4"/>
<circle cx="390.8" cy="617.8" r="2.4"/>
<circle cx="442.8" cy="622.1" r="2.4"/>
<circle cx="423.4" cy="619.3" r="2.4"/>
<circle cx="388.7" cy="619.6" r="2.4"/>
<circle cx="393.2" cy="617.3" r="2.4"/>
<circle cx="440.6" cy="618.4" r="2.4"/>
<circle cx="400.8" cy="622.4" r="2.4"/>
<circle cx="396.5" cy="623.1" r="2.4"/>
<circle cx="398.7" cy="617.5" r="2.4"/>
<circle cx="433.7" cy="619.7" r="2.4"/>
<circle cx="395.3" cy="620.1" r="2.4"/>
<circle cx="409.1" cy="616.6" r="2.4"/>
<circle cx="428.7" cy="610.0" r="2.4"/>
<circle cx="365.8" cy="616.9" r="2.4"/>
<circle cx="427.2" cy="606.6" r="2.4"/>
<circle cx="420.6" cy="616.7" r="2.4"/>
<circle cx="402.6" cy="619.9" r="2.4"/>
<circle cx="396.7" cy="624.6" r="2.4"/>
<circle cx="433.0" cy="617.2" r="2.4"/>
<circle cx="405.9" cy="624.2" r="2.4"/>
<circle cx="383.7" cy="615.1" r="2.4"/>
<circle cx="382.0" cy="617.4" r="2.4"/>
<circle cx="409.3" cy="615.2" r="2.4"/>
<circle cx="363.4" cy="618.9" r="2.4"/>
<circle cx="431.6" cy="616.3" r="2.4"/>
<circle cx="363.5" cy="615.3" r="2.4"/>
<circle cx="401.0" cy="618.4" r="2.4"/>
<circle cx="392.0" cy="617.4" r="2.4"/>
<circle cx="377.0" cy="615.8" r="2.4"/>
<circle cx="387.3" cy="615.7" r="2.4"/>
<circle cx="410.1" cy="612.7" r="2.4"/>
<circle cx="431.1" cy="619.4" r="2.4"/>
<circle cx="431.7" cy="614.5" r="2.4"/>
<circle cx="443.7" cy="620.3" r="2.4"/>
<circle cx="364.0" cy="617.3" r="2.4"/>
<circle cx="363.2" cy="616.1" r="2.4"/>
<circle cx="365.3" cy="613.6" r="2.4"/>
<circle cx="442.6" cy="619.5" r="2.4"/>
<circle cx="404.0" cy="619.5" r="2.4"/>
<circle cx="385.6" cy="620.2" r="2.4"/>
<circle cx="372.0" cy="616.5" r="2.4"/>
<circle cx="367.4" cy="617.0" r="2.4"/>
<circle cx="445.1" cy="616.4" r="2.4"/>
<circle cx="382.2" cy="615.9" r="2.4"/>
<circle cx="363.9" cy="612.8" r="2.4"/>
<circle cx="434.7" cy="610.6" r="2.4"/>
<circle cx="411.7" cy="617.1" r="2.4"/>
<circle cx="372.8" cy="615.4" r="2.4"/>
<circle cx="388.3" cy="618.0" r="2.4"/>
<circle cx="447.8" cy="606.7" r="2.4"/>
<circle cx="393.3" cy="613.8" r="2.4"/>
<circle cx="408.4" cy="616.0" r="2.4"/>
<circle cx="424.9" cy="619.4" r="2.4"/>
<circle cx="369.2" cy="618.6" r="2.4"/>
<circle cx="369.9" cy="620.1" r="2.4"/>
<circle cx="406.6" cy="614.4" r="2.4"/>
<circle cx="426.9" cy="624.3" r="2.4"/>
<circle cx="367.2" cy="619.4" r="2.4"/>
<circle cx="413.1" cy="608.5" r="2.4"/>
<circle cx="371.5" cy="620.1" r="2.4"/>
<circle cx="435.6" cy="622.9" r="2.4"/>
<circle cx="361.7" cy="619.2" r="2.4"/>
<circle cx="390.1" cy="616.2" r="2.4"/>
<circle cx="418.4" cy="613.1" r="2.4"/>
<circle cx="399.6" cy="620.9" r="2.4"/>
<circle cx="375.0" cy="616.1" r="2.4"/>
<circle cx="409.6" cy="617.2" r="2.4"/>
<circle cx="430.3" cy="614.7" r="2.4"/>
<circle cx="361.9" cy="613.7" r="2.4"/>
<circle cx="417.5" cy="617.5" r="2.4"/>
<circle cx="390.8" cy="618.8" r="2.4"/>
<circle cx="373.7" cy="620.5" r="2.4"/>
<circle cx="388.9" cy="616.9" r="2.4"/>
<circle cx="438.1" cy="609.6" r="2.4"/>
<circle cx="367.3" cy="617.7" r="2.4"/>
<circle cx="407.5" cy="616.1" r="2.4"/>
<circle cx="373.7" cy="616.1" r="2.4"/>
<circle cx="392.1" cy="615.9" r="2.4"/>
<circle cx="377.3" cy="614.0" r="2.4"/>
<circle cx="437.9" cy="622.2" r="2.4"/>
<circle cx="360.2" cy="617.6" r="2.4"/>
<circle cx="403.1" cy="614.1" r="2.4"/>
<circle cx="379.6" cy="615.3" r="2.4"/>
<circle cx="372.8" cy="611.2" r="2.4"/>
<circle cx="394.5" cy="614.8" r="2.4"/>
<circle cx="439.7" cy="616.9" r="2.4"/>
<circle cx="380.0" cy="619.1" r="2.4"/>
<circle cx="423.3" cy="611.3" r="2.4"/>
<circle cx="413.2" cy="618.4" r="2.4"/>
<circle cx="421.6" cy="616.9" r="2.4"/>
<circle cx="389.9" cy="612.8" r="2.4"/>
<circle cx="359.8" cy="617.2" r="2.4"/>
<circle cx="396.2" cy="612.2" r="2.4"/>
<circle cx="381.0" cy="615.9" r="2.4"/>
<circle cx="390.1" cy="613.0" r="2.4"/>
<circle cx="378.7" cy="620.7" r="2.4"/>
<circle cx="449.4" cy="615.5" r="2.4"/>
<circle cx="402.4" cy="621.4" r="2.4"/>
<circle cx="441.3" cy="615.6" r="2.4"/>
<circle cx="415.6" cy="615.5" r="2.4"/>
<circle cx="430.2" cy="619.6" r="2.4"/>
<circle cx="390.5" cy="622.5" r="2.4"/>
<circle cx="419.9" cy="618.3" r="2.4"/>
<circle cx="443.9" cy="618.6" r="2.4"/>
<circle cx="426.4" cy="617.0" r="2.4"/>
<circle cx="398.3" cy="614.3" r="2.4"/>
<circle cx="430.0" cy="615.1" r="2.4"/>
<circle cx="407.1" cy="620.2" r="2.4"/>
<circle cx="369.3" cy="616.6" r="2.4"/>
<circle cx="434.9" cy="610.0" r="2.4"/>
<circle cx="400.4" cy="617.0" r="2.4"/>
<circle cx="441.3" cy="618.5" r="2.4"/>
<circle cx="394.4" cy="615.1" r="2.4"/>
<circle cx="430.9" cy="623.8" r="2.4"/>
<circle cx="433.8" cy="607.8" r="2.4"/>
<circle cx="418.0" cy="615.2" r="2.4"/>
<circle cx="434.7" cy="618.1" r="2.4"/>
<circle cx="359.2" cy="613.9" r="2.4"/>
<circle cx="368.8" cy="614.4" r="2.4"/>
<circle cx="400.3" cy="612.7" r="2.4"/>
<circle cx="390.9" cy="617.4" r="2.4"/>
<circle cx="415.0" cy="607.9" r="2.4"/>
<circle cx="383.4" cy="614.1" r="2.4"/>
<circle cx="432.1" cy="618.8" r="2.4"/>
<circle cx="362.6" cy="617.1" r="2.4"/>
<circle cx="375.5" cy="620.5" r="2.4"/>
<circle cx="391.7" cy="621.9" r="2.4"/>
<circle cx="414.2" cy="614.8" r="2.4"/>
<circle cx="445.6" cy="621.2" r="2.4"/>
<circle cx="376.0" cy="617.5" r="2.4"/>
<circle cx="373.5" cy="611.1" r="2.4"/>
<circle cx="374.7" cy="613.5" r="2.4"/>
<circle cx="381.6" cy="613.1" r="2.4"/>
<circle cx="409.0" cy="617.1" r="2.4"/>
<circle cx="405.5" cy="623.3" r="2.4"/>
<circle cx="440.0" cy="608.6" r="2.4"/>
<circle cx="415.5" cy="624.4" r="2.4"/>
<circle cx="391.7" cy="618.6" r="2.4"/>
<circle cx="392.9" cy="619.5" r="2.4"/>
<circle cx="441.2" cy="612.9" r="2.4"/>
<circle cx="447.4" cy="619.1" r="2.4"/>
<circle cx="420.9" cy="615.6" r="2.4"/>
<circle cx="427.0" cy="615.9" r="2.4"/>
<circle cx="362.0" cy="613.9" r="2.4"/>
<circle cx="445.3" cy="613.7" r="2.4"/>
<circle cx="371.9" cy="616.8" r="2.4"/>
<circle cx="363.0" cy="618.0" r="2.4"/>
<circle cx="417.0" cy="620.9" r="2.4"/>
<circle cx="385.2" cy="616.0" r="2.4"/>
<circle cx="447.6" cy="618.7" r="2.4"/>
<circle cx="420.2" cy="625.0" r="2.4"/>
<circle cx="423.2" cy="611.9" r="2.4"/>
<circle cx="373.5" cy="619.3" r="2.4"/>
<circle cx="430.9" cy="608.6" r="2.4"/>
<circle cx="405.7" cy="617.7" r="2.4"/>
<circle cx="374.3" cy="611.8" r="2.4"/>
<circle cx="385.8" cy="621.5" r="2.4"/>
<circle cx="446.2" cy="610.9" r="2.4"/>
<circle cx="444.5" cy="611.4" r="2.4"/>
<circle cx="398.6" cy="613.9" r="2.4"/>
<circle cx="394.6" cy="623.7" r="2.4"/>
<circle cx="383.0" cy="620.5" r="2.4"/>
<circle cx="399.7" cy="618.5" r="2.4"/>
<circle cx="416.6" cy="615.9" r="2.4"/>
<circle cx="427.5" cy="616.8" r="2.4"/>
<circle cx="419.7" cy="617.1" r="2.4"/>
<circle cx="383.8" cy="620.7" r="2.4"/>
<circle cx="406.9" cy="618.6" r="2.4"/>
<circle cx="382.4" cy="619.2" r="2.4"/>
<circle cx="410.2" cy="623.3" r="2.4"/>
<circle cx="382.9" cy="613.0" r="2.4"/>
<circle cx="408.6" cy="617.1" r="2.4"/>
<circle cx="420.4" cy="622.1" r="2.4"/>
<circle cx="368.9" cy="617.5" r="2.4"/>
<circle cx="446.6" cy="616.8" r="2.4"/>
<circle cx="429.1" cy="624.1" r="2.4"/>
<circle cx="426.2" cy="613.6" r="2.4"/>
<circle cx="432.0" cy="609.5" r="2.4"/>
<circle cx="437.9" cy="615.9" r="2.4"/>
<circle cx="419.6" cy="617.3" r="2.4"/>
<circle cx="364.8" cy="616.3" r="2.4"/>
<circle cx="436.2" cy="616.8" r="2.4"/>
<circle cx="395.5" cy="614.8" r="2.4"/>
<circle cx="435.5" cy="617.4" r="2.4"/>
<circle cx="434.9" cy="618.5" r="2.4"/>
<circle cx="427.3" cy="623.6" r="2.4"/>
<circle cx="440.4" cy="617.3" r="2.4"/>
<circle cx="438.6" cy="619.0" r="2.4"/>
<circle cx="422.7" cy="612.0" r="2.4"/>
<circle cx="364.9" cy="618.8" r="2.4"/>
<circle cx="383.6" cy="614.3" r="2.4"/>
<circle cx="367.3" cy="620.4" r="2.4"/>
<circle cx="431.6" cy="619.2" r="2.4"/>
<circle cx="365.4" cy="614.2" r="2.4"/>
<circle cx="388.3" cy="618.1" r="2.4"/>
<circle cx="371.4" cy="611.3" r="2.4"/>
<circle cx="399.3" cy="621.9" r="2.4"/>
<circle cx="362.4" cy="617.2" r="2.4"/>
<circle cx="416.0" cy="612.7" r="2.4"/>
<circle cx="410.4" cy="621.0" r="2.4"/>
<circle cx="377.8" cy="617.0" r="2.4"/>
<circle cx="432.2" cy="606.6" r="2.4"/>
<circle cx="429.5" cy="615.6" r="2.4"/>
<circle cx="397.3" cy="619.4" r="2.4"/>
<circle cx="424.6" cy="614.0" r="2.4"/>
<circle cx="405.3" cy="612.5" r="2.4"/>
<circle cx="437.6" cy="617.7" r="2.4"/>
<circle cx="388.7" cy="612.5" r="2.4"/>
<circle cx="365.3" cy="613.2" r="2.4"/>
<circle cx="400.0" cy="620.4" r="2.4"/>
<circle cx="400.1" cy="612.4" r="2.4"/>
<circle cx="395.4" cy="613.7" r="2.4"/>
<circle cx="425.6" cy="614.6" r="2.4"/>
<circle cx="376.8" cy="616.7" r="2.4"/>
<circle cx="409.7" cy="617.5" r="2.4"/>
<circle cx="447.1" cy="619.7" r="2.4"/>
<circle cx="424.4" cy="615.2" r="2.4"/>
<circle cx="364.5" cy="612.5" r="2.4"/>
<circle cx="437.2" cy="615.4" r="2.4"/>
<circle cx="391.1" cy="618.5" r="2.4"/>
<circle cx="448.8" cy="606.8" r="2.4"/>
<circle cx="374.7" cy="620.0" r="2.4"/>
<circle cx="431.8" cy="607.9" r="2.4"/>
<circle cx="368.5" cy="618.7" r="2.4"/>
<circle cx="401.6" cy="615.4" r="2.4"/>
<circle cx="441.6" cy="613.4" r="2.4"/>
<circle cx="370.5" cy="616.6" r="2.4"/>
<circle cx="404.9" cy="612.9" r="2.4"/>
<circle cx="360.7" cy="616.7" r="2.4"/>
<circle cx="423.3" cy="618.0" r="2.4"/>
<circle cx="425.3" cy="622.0" r="2.4"/>
<circle cx="435.2" cy="606.8" r="2.4"/>
<circle cx="378.2" cy="615.3" r="2.4"/>
<circle cx="359.6" cy="616.1" r="2.4"/>
<circle cx="430.2" cy="606.7" r="2.4"/>
<circle cx="439.5" cy="608.6" r="2.4"/>
<circle cx="388.2" cy="621.0" r="2.4"/>
<circle cx="402.8" cy="612.1" r="2.4"/>
<circle cx="380.9" cy="615.7" r="2.4"/>
<circle cx="412.5" cy="610.7" r="2.4"/>
<circle cx="400.2" cy="619.3" r="2.4"/>
<circle cx="423.0" cy="608.0" r="2.4"/>
<circle cx="424.6" cy="615.4" r="2.4"/>
<circle cx="395.1" cy="620.5" r="2.4"/>
<circle cx="380.6" cy="618.3" r="2.4"/>
<circle cx="401.6" cy="623.6" r="2.4"/>
<circle cx="413.2" cy="611.1" r="2.4"/>
<circle cx="448.4" cy="612.3" r="2.4"/>
<circle cx="430.4" cy="616.8" r="2.4"/>
<circle cx="416.4" cy="617.0" r="2.4"/>
<circle cx="447.4" cy="616.5" r="2.4"/>
<circle cx="362.3" cy="614.5" r="2.4"/>
<circle cx="443.3" cy="617.2" r="2.4"/>
<circle cx="443.3" cy="621.1" r="2.4"/>
<circle cx="382.7" cy="612.5" r="2.4"/>
<circle cx="427.5" cy="625.1" r="2.4"/>
<circle cx="423.3" cy="622.0" r="2.4"/>
<circle cx="373.6" cy="612.1" r="2.4"/>
<circle cx="430.3" cy="616.4" r="2.4"/>
<circle cx="436.1" cy="621.1" r="2.4"/>
<circle cx="404.4" cy="618.2" r="2.4"/>
<circle cx="431.4" cy="607.0" r="2.4"/>
<circle cx="408.3" cy="615.1" r="2.4"/>
<circle cx="359.5" cy="616.2" r="2.4"/>
<circle cx="361.0" cy="617.0" r="2.4"/>
<circle cx="369.9" cy="612.9" r="2.4"/>
<circle cx="397.8" cy="624.4" r="2.4"/>
<circle cx="408.4" cy="610.6" r="2.4"/>
<circle cx="425.1" cy="614.7" r="2.4"/>
<circle cx="435.8" cy="613.1" r="2.4"/>
<circle cx="386.3" cy="617.6" r="2.4"/>
<circle cx="447.7" cy="618.0" r="2.4"/>
<circle cx="359.4" cy="614.3" r="2.4"/>
<circle cx="421.7" cy="616.8" r="2.4"/>
<circle cx="400.2" cy="618.9" r="2.4"/>
<circle cx="417.7" cy="616.0" r="2.4"/>
<circle cx="441.7" cy="613.5" r="2.4"/>
<circle cx="423.9" cy="619.6" r="2.4"/>
<circle cx="436.0" cy="622.1" r="2.4"/>
<circle cx="375.1" cy="614.0" r="2.4"/>
<circle cx="381.7" cy="615.4" r="2.4"/>
<circle cx="388.3" cy="616.0" r="2.4"/>
<circle cx="447.9" cy="620.7" r="2.4"/>
<circle cx="428.0" cy="617.2" r="2.4"/>
<circle cx="449.1" cy="616.1" r="2.4"/>
<circle cx="396.2" cy="614.1" r="2.4"/>
<circle cx="439.3" cy="617.5" r="2.4"/>
<circle cx="388.6" cy="616.8" r="2.4"/>
<circle cx="430.9" cy="607.9" r="2.4"/>
<circle cx="433.8" cy="617.7" r="2.4"/>
<circle cx="392.1" cy="623.0" r="2.4"/>
<circle cx="373.4" cy="617.6" r="2.4"/>
<circle cx="407.7" cy="613.0" r="2.4"/>
<circle cx="395.8" cy="614.8" r="2.4"/>
<circle cx="366.9" cy="614.2" r="2.4"/>
<circle cx="441.1" cy="611.3" r="2.4"/>
<circle cx="423.8" cy="612.4" r="2.4"/>
<circle cx="374.8" cy="617.9" r="2.4"/>
<circle cx="421.5" cy="616.3" r="2.4"/>
<circle cx="382.1" cy="618.5" r="2.4"/>
<circle cx="377.8" cy="620.5" r="2.4"/>
<circle cx="417.2" cy="618.9" r="2.4"/>
<circle cx="413.1" cy="612.3" r="2.4"/>
<circle cx="364.6" cy="612.5" r="2.4"/>
<circle cx="391.6" cy="612.1" r="2.4"/>
<circle cx="403.6" cy="615.1" r="2.4"/>
<circle cx="421.2" cy="621.4" r="2.4"/>
<circle cx="375.0" cy="614.3" r="2.4"/>
<circle cx="395.9" cy="617.1" r="2.4"/>
<circle cx="424.9" cy="624.4" r="2.4"/>
<circle cx="389.9" cy="619.3" r="2.4"/>
<circle cx="379.3" cy="616.9" r="2.4"/>
<circle cx="431.7" cy="611.2" r="2.4"/>
<circle cx="359.7" cy="618.4" r="2.4"/>
<circle cx="373.1" cy="616.9" r="2.4"/>
<circle cx="418.8" cy="609.7" r="2.4"/>
<circle cx="367.6" cy="614.6" r="2.4"/>
<circle cx="410.5" cy="609.2" r="2.4"/>
<circle cx="360.1" cy="617.9" r="2.4"/>
<circle cx="370.6" cy="614.6" r="2.4"/>
<circle cx="371.4" cy="618.2" r="2.4"/>
<circle cx="381.6" cy="616.9" r="2.4"/>
<circle cx="368.9" cy="619.0" r="2.4"/>
<circle cx="384.7" cy="619.4" r="2.4"/>
<circle cx="379.1" cy="614.0" r="2.4"/>
<circle cx="393.7" cy="619.2" r="2.4"/>
<circle cx="401.6" cy="618.5" r="2.4"/>
<circle cx="434.7" cy="607.0" r="2.4"/>
<circle cx="398.6" cy="616.8" r="2.4"/>
<circle cx="423.4" cy="608.8" r="2.4"/>
<circle cx="402.3" cy="612.5" r="2.4"/>
<circle cx="398.8" cy="610.9" r="2.4"/>
<circle cx="391.6" cy="622.4" r="2.4"/>
<circle cx="409.2" cy="612.2" r="2.4"/>
<circle cx="426.4" cy="623.1" r="2.4"/>
<circle cx="446.2" cy="617.0" r="2.4"/>
<circle cx="368.8" cy="615.1" r="2.4"/>
<circle cx="374.3" cy="616.1" r="2.4"/>
<circle cx="378.1" cy="614.3" r="2.4"/>
<circle cx="442.7" cy="618.3" r="2.4"/>
<circle cx="365.6" cy="614.7" r="2.4"/>
<circle cx="377.4" cy="615.1" r="2.4"/>
<circle cx="369.7" cy="615.3" r="2.4"/>
<circle cx="359.8" cy="616.3" r="2.4"/>
<circle cx="361.0" cy="617.7" r="2.4"/>
<circle cx="407.6" cy="616.6" r="2.4"/>
<circle cx="413.7" cy="609.2" r="2.4"/>
<circle cx="431.8" cy="616.4" r="2.4"/>
<circle cx="426.0" cy="614.0" r="2.4"/>
<circle cx="375.3" cy="617.1" r="2.4"/>
<circle cx="440.7" cy="610.7" r="2.4"/>
<circle cx="362.1" cy="613.9" r="2.4"/>
<circle cx="376.2" cy="618.9" r="2.4"/>
<circle cx="411.8" cy="614.3" r="2.4"/>
<circle cx="359.9" cy="617.7" r="2.4"/>
<circle cx="380.0" cy="616.7" r="2.4"/>
<circle cx="444.9" cy="621.6" r="2.4"/>
<circle cx="415.2" cy="622.0" r="2.4"/>
<circle cx="377.1" cy="615.2" r="2.4"/>
<circle cx="446.1" cy="612.4" r="2.4"/>
<circle cx="390.0" cy="610.8" r="2.4"/>
<circle cx="392.8" cy="621.4" r="2.4"/>
<circle cx="358.8" cy="615.2" r="2.4"/>
<circle cx="400.0" cy="620.5" r="2.4"/>
<circle cx="371.3" cy="611.9" r="2.4"/>
<circle cx="446.0" cy="608.2" r="2.4"/>
<circle cx="406.2" cy="622.5" r="2.4"/>
<circle cx="364.0" cy="613.8" r="2.4"/>
<circle cx="412.0" cy="614.4" r="2.4"/>
<circle cx="439.5" cy="621.6" r="2.4"/>
<circle cx="445.7" cy="620.5" r="2.4"/>
<circle cx="395.8" cy="623.4" r="2.4"/>
<circle cx="368.3" cy="614.0" r="2.4"/>
<circle cx="385.0" cy="616.6" r="2.4"/>
<circle cx="437.8" cy="616.0" r="2.4"/>
<circle cx="435.9" cy="615.2" r="2.4"/>
<circle cx="369.4" cy="617.6" r="2.4"/>
<circle cx="412.0" cy="614.7" r="2.4"/>
<circle cx="440.4" cy="616.5" r="2.4"/>
<circle cx="440.3" cy="610.2" r="2.4"/>
<circle cx="421.6" cy="611.5" r="2.4"/>
<circle cx="392.1" cy="619.3" r="2.4"/>
<circle cx="365.5" cy="616.9" r="2.4"/>
<circle cx="415.5" cy="619.0" r="2.4"/>
<circle cx="431.4" cy="614.9" r="2.4"/>
<circle cx="420.4" cy="615.7" r="2.4"/>
<circle cx="445.8" cy="615.5" r="2.4"/>
<circle cx="379.9" cy="620.6" r="2.4"/>
<circle cx="377.6" cy="620.4" r="2.4"/>
<circle cx="440.5" cy="619.1" r="2.4"/>
<circle cx="391.5" cy="620.3" r="2.4"/>
<circle cx="370.4" cy="612.9" r="2.4"/>
<circle cx="383.0" cy="613.6" r="2.4"/>
<circle cx="395.7" cy="612.2" r="2.4"/>
<circle cx="411.7" cy="615.0" r="2.4"/>
<circle cx="422.8" cy="610.1" r="2.4"/>
<circle cx="402.5" cy="619.7" r="2.4"/>
<circle cx="373.4" cy="620.7" r="2.4"/>
<circle cx="428.4" cy="615.6" r="2.4"/>
<circle cx="417.1" cy="619.8" r="2.4"/>
<circle cx="446.5" cy="617.9" r="2.4"/>
<circle cx="386.1" cy="620.1" r="2.4"/>
<circle cx="413.4" cy="617.8" r="2.4"/>
<circle cx="376.8" cy="616.6" r="2.4"/>
<circle cx="424.7" cy="607.6" r="2.4"/>
<circle cx="359.2" cy="617.2" r="2.4"/>
<circle cx="359.2" cy="615.1" r="2.4"/>
<circle cx="423.4" cy="614.8" r="2.4"/>
<circle cx="360.6" cy="618.7" r="2.4"/>
<circle cx="446.9" cy="611.3" r="2.4"/>
<circle cx="406.2" cy="615.4" r="2.4"/>
<circle cx="402.3" cy="609.6" r="2.4"/>
<circle cx="366.4" cy="612.6" r="2.4"/>
<circle cx="415.5" cy="611.3" r="2.4"/>
<circle cx="430.7" cy="615.3" r="2.4"/>
<circle cx="375.9" cy="617.9" r="2.4"/>
<circle cx="409.7" cy="611.0" r="2.4"/>
<circle cx="421.7" cy="620.4" r="2.4"/>
<circle cx="379.6" cy="616.5" r="2.4"/>
<circle cx="412.0" cy="619.6" r="2.4"/>
<circle cx="431.8" cy="615.6" r="2.4"/>
<circle cx="379.8" cy="618.0" r="2.4"/>
<circle cx="410.1" cy="611.4" r="2.4"/>
<circle cx="411.7" cy="618.3" r="2.4"/>
<circle cx="380.7" cy="615.9" r="2.4"/>
<circle cx="407.2" cy="618.8" r="2.4"/>
<circle cx="378.9" cy="617.7" r="2.4"/>
<circle cx="421.6" cy="623.9" r="2.4"/>
<circle cx="377.4" cy="617.7" r="2.4"/>
<circle cx="382.5" cy="614.4" r="2.4"/>
<circle cx="428.8" cy="616.8" r="2.4"/>
<circle cx="423.8" cy="616.7" r="2.4"/>
<circle cx="387.4" cy="615.0" r="2.4"/>
<circle cx="363.9" cy="613.2" r="2.4"/>
<circle cx="363.3" cy="613.8" r="2.4"/>
<circle cx="443.4" cy="615.3" r="2.4"/>
<circle cx="369.7" cy="616.2" r="2.4"/>
<circle cx="391.7" cy="616.6" r="2.4"/>
<circle cx="406.9" cy="616.8" r="2.4"/>
<circle cx="393.9" cy="614.2" r="2.4"/>
<circle cx="419.5" cy="613.0" r="2.4"/>
<circle cx="402.1" cy="616.7" r="2.4"/>
<circle cx="428.7" cy="614.5" r="2.4"/>
<circle cx="443.0" cy="615.7" r="2.4"/>
<circle cx="400.2" cy="613.7" r="2.4"/>
<circle cx="362.2" cy="615.8" r="2.4"/>
<circle cx="441.4" cy="614.5" r="2.4"/>
<circle cx="415.0" cy="607.6" r="2.4"/>
<circle cx="427.0" cy="615.7" r="2.4"/>
<circle cx="394.6" cy="623.7" r="2.4"/>
<circle cx="363.5" cy="618.2" r="2.4"/>
<circle cx="371.1" cy="611.3" r="2.4"/>
<circle cx="373.7" cy="619.4" r="2.4"/>
<circle cx="374.2" cy="618.7" r="2.4"/>
<circle cx="397.5" cy="612.2" r="2.4"/>
<circle cx="380.8" cy="616.6" r="2.4"/>
<circle cx="369.4" cy="618.4" r="2.4"/>
<circle cx="439.8" cy="612.4" r="2.4"/>
<circle cx="413.6" cy="615.1" r="2.4"/>
<circle cx="423.8" cy="617.0" r="2.4"/>
<circle cx="370.6" cy="620.9" r="2.4"/>
<circle cx="368.5" cy="615.7" r="2.4"/>
<circle cx="382.0" cy="621.1" r="2.4"/>
<circle cx="372.3" cy="617.3" r="2.4"/>
<circle cx="388.0" cy="619.4" r="2.4"/>
<circle cx="389.8" cy="615.6" r="2.4"/>
<circle cx="433.4" cy="616.1" r="2.4"/>
<circle cx="428.1" cy="623.5" r="2.4"/>
<circle cx="445.2" cy="619.2" r="2.4"/>
<circle cx="433.2" cy="612.9" r="2.4"/>
<circle cx="392.8" cy="615.7" r="2.4"/>
<circle cx="368.8" cy="620.1" r="2.4"/>
<circle cx="396.1" cy="623.0" r="2.4"/>
<circle cx="427.4" cy="624.0" r="2.4"/>
<circle cx="431.8" cy="616.2" r="2.4"/>
<circle cx="424.9" cy="616.8" r="2.4"/>
<circle cx="418.4" cy="622.5" r="2.4"/>
<circle cx="569.0" cy="617.1" r="2.4"/>
<circle cx="572.0" cy="616.1" r="2.4"/>
<circle cx="518.6" cy="616.3" r="2.4"/>
<circle cx="559.2" cy="612.4" r="2.4"/>
<circle cx="523.5" cy="622.9" r="2.4"/>
<circle cx="537.1" cy="613.8" r="2.4"/>
<circle cx="562.4" cy="617.8" r="2.4"/>
<circle cx="490.7" cy="614.3" r="2.4"/>
<circle cx="560.9" cy="610.9" r="2.4"/>
<circle cx="494.0" cy="618.2" r="2.4"/>
<circle cx="553.3" cy="615.7" r="2.4"/>
<circle cx="573.6" cy="619.1" r="2.4"/>
<circle cx="496.8" cy="615.8" r="2.4"/>
<circle cx="555.8" cy="617.2" r="2.4"/>
<circle cx="523.3" cy="622.2" r="2.4"/>
<circle cx="556.3" cy="621.3" r="2.4"/>
<circle cx="492.2" cy="614.4" r="2.4"/>
<circle cx="490.8" cy="616.3" r="2.4"/>
<circle cx="503.3" cy="617.6" r="2.4"/>
<circle cx="549.0" cy="616.2" r="2.4"/>
<circle cx="521.1" cy="615.3" r="2.4"/>
<circle cx="511.5" cy="620.5" r="2.4"/>
<circle cx="577.9" cy="616.7" r="2.4"/>
<circle cx="504.5" cy="613.2" r="2.4"/>
<circle cx="520.2" cy="618.6" r="2.4"/>
<circle cx="549.8" cy="616.9" r="2.4"/>
<circle cx="559.6" cy="613.4" r="2.4"/>
<circle cx="567.7" cy="615.4" r="2.4"/>
<circle cx="524.3" cy="617.5" r="2.4"/>
<circle cx="565.8" cy="616.0" r="2.4"/>
<circle cx="504.5" cy="618.4" r="2.4"/>
<circle cx="489.2" cy="616.5" r="2.4"/>
<circle cx="559.2" cy="607.2" r="2.4"/>
<circle cx="560.3" cy="616.8" r="2.4"/>
<circle cx="539.8" cy="613.4" r="2.4"/>
<circle cx="574.4" cy="619.0" r="2.4"/>
<circle cx="543.9" cy="614.9" r="2.4"/>
<circle cx="512.9" cy="617.5" r="2.4"/>
<circle cx="562.3" cy="614.1" r="2.4"/>
<circle cx="550.4" cy="620.6" r="2.4"/>
<circle cx="512.3" cy="614.3" r="2.4"/>
<circle cx="565.6" cy="614.0" r="2.4"/>
<circle cx="571.4" cy="619.8" r="2.4"/>
<circle cx="556.6" cy="618.6" r="2.4"/>
<circle cx="540.1" cy="615.4" r="2.4"/>
<circle cx="572.4" cy="618.3" r="2.4"/>
<circle cx="498.0" cy="614.1" r="2.4"/>
<circle cx="566.8" cy="619.6" r="2.4"/>
<circle cx="511.8" cy="615.9" r="2.4"/>
<circle cx="546.9" cy="617.0" r="2.4"/>
<circle cx="553.4" cy="618.7" r="2.4"/>
<circle cx="513.7" cy="619.6" r="2.4"/>
<circle cx="573.3" cy="614.9" r="2.4"/>
<circle cx="561.2" cy="617.7" r="2.4"/>
<circle cx="529.7" cy="613.6" r="2.4"/>
<circle cx="531.1" cy="619.6" r="2.4"/>
<circle cx="501.8" cy="613.5" r="2.4"/>
<circle cx="577.3" cy="616.5" r="2.4"/>
<circle cx="500.5" cy="616.1" r="2.4"/>
<circle cx="511.1" cy="619.1" r="2.4"/>
<circle cx="491.8" cy="614.2" r="2.4"/>
<circle cx="565.0" cy="618.5" r="2.4"/>
<circle cx="530.8" cy="617.2" r="2.4"/>
<circle cx="554.1" cy="621.4" r="2.4"/>
<circle cx="505.4" cy="620.6" r="2.4"/>
<circle cx="499.6" cy="616.8" r="2.4"/>
<circle cx="518.9" cy="620.3" r="2.4"/>
<circle cx="531.2" cy="616.8" r="2.4"/>
<circle cx="508.6" cy="620.3" r="2.4"/>
<circle cx="543.7" cy="617.1" r="2.4"/>
<circle cx="536.5" cy="614.6" r="2.4"/>
<circle cx="528.5" cy="622.6" r="2.4"/>
<circle cx="560.9" cy="618.1" r="2.4"/>
<circle cx="509.6" cy="619.7" r="2.4"/>
<circle cx="574.9" cy="618.1" r="2.4"/>
<circle cx="538.4" cy="611.3" r="2.4"/>
<circle cx="501.1" cy="616.8" r="2.4"/>
<circle cx="512.8" cy="617.2" r="2.4"/>
<circle cx="557.0" cy="611.2" r="2.4"/>
<circle cx="568.1" cy="621.6" r="2.4"/>
<circle cx="576.7" cy="616.4" r="2.4"/>
<circle cx="575.4" cy="616.8" r="2.4"/>
<circle cx="516.9" cy="612.5" r="2.4"/>
<circle cx="499.9" cy="617.7" r="2.4"/>
<circle cx="539.2" cy="618.9" r="2.4"/>
<circle cx="550.2" cy="622.9" r="2.4"/>
<circle cx="545.6" cy="620.7" r="2.4"/>
<circle cx="548.8" cy="618.9" r="2.4"/>
<circle cx="515.7" cy="617.0" r="2.4"/>
<circle cx="494.6" cy="616.9" r="2.4"/>
<circle cx="507.2" cy="612.1" r="2.4"/>
<circle cx="563.7" cy="618.1" r="2.4"/>
<circle cx="571.8" cy="620.2" r="2.4"/>
<circle cx="549.5" cy="617.3" r="2.4"/>
<circle cx="527.0" cy="616.8" r="2.4"/>
<circle cx="516.8" cy="610.5" r="2.4"/>
<circle cx="526.0" cy="614.3" r="2.4"/>
<circle cx="490.0" cy="615.1" r="2.4"/>
<circle cx="563.3" cy="621.1" r="2.4"/>
<circle cx="512.8" cy="615.2" r="2.4"/>
<circle cx="535.0" cy="621.0" r="2.4"/>
<circle cx="525.1" cy="608.3" r="2.4"/>
<circle cx="563.2" cy="618.8" r="2.4"/>
<circle cx="513.0" cy="616.0" r="2.4"/>
<circle cx="548.1" cy="618.5" r="2.4"/>
<circle cx="577.8" cy="615.1" r="2.4"/>
<circle cx="503.2" cy="615.2" r="2.4"/>
<circle cx="538.2" cy="619.6" r="2.4"/>
<circle cx="511.6" cy="614.0" r="2.4"/>
<circle cx="502.2" cy="619.1" r="2.4"/>
<circle cx="503.1" cy="617.3" r="2.4"/>
<circle cx="539.0" cy="615.6" r="2.4"/>
<circle cx="490.2" cy="616.4" r="2.4"/>
<circle cx="510.0" cy="617.0" r="2.4"/>
<circle cx="510.4" cy="616.4" r="2.4"/>
<circle cx="523.5" cy="620.3" r="2.4"/>
<circle cx="508.7" cy="620.6" r="2.4"/>
<circle cx="529.3" cy="622.7" r="2.4"/>
<circle cx="542.9" cy="611.4" r="2.4"/>
<circle cx="496.2" cy="613.8" r="2.4"/>
<circle cx="546.9" cy="614.6" r="2.4"/>
<circle cx="534.7" cy="619.8" r="2.4"/>
<circle cx="510.7" cy="615.0" r="2.4"/>
<circle cx="517.8" cy="616.3" r="2.4"/>
<circle cx="503.7" cy="613.2" r="2.4"/>
<circle cx="564.7" cy="612.1" r="2.4"/>
<circle cx="544.8" cy="616.4" r="2.4"/>
<circle cx="518.8" cy="618.0" r="2.4"/>
<circle cx="553.0" cy="614.0" r="2.4"/>
<circle cx="548.8" cy="619.7" r="2.4"/>
<circle cx="497.0" cy="615.2" r="2.4"/>
<circle cx="489.1" cy="616.3" r="2.4"/>
<circle cx="506.6" cy="621.3" r="2.4"/>
<circle cx="577.8" cy="615.0" r="2.4"/>
<circle cx="548.9" cy="616.2" r="2.4"/>
<circle cx="550.4" cy="613.7" r="2.4"/>
<circle cx="495.1" cy="620.0" r="2.4"/>
<circle cx="571.2" cy="616.4" r="2.4"/>
<circle cx="532.5" cy="618.5" r="2.4"/>
<circle cx="533.2" cy="615.8" r="2.4"/>
<circle cx="561.7" cy="610.2" r="2.4"/>
<circle cx="532.1" cy="618.7" r="2.4"/>
<circle cx="551.3" cy="622.7" r="2.4"/>
<circle cx="492.8" cy="619.9" r="2.4"/>
<circle cx="560.5" cy="612.0" r="2.4"/>
<circle cx="493.6" cy="618.1" r="2.4"/>
<circle cx="520.0" cy="612.9" r="2.4"/>
<circle cx="552.6" cy="622.2" r="2.4"/>
<circle cx="528.0" cy="609.2" r="2.4"/>
<circle cx="553.8" cy="616.2" r="2.4"/>
<circle cx="566.9" cy="616.1" r="2.4"/>
<circle cx="499.1" cy="617.9" r="2.4"/>
<circle cx="489.1" cy="616.1" r="2.4"/>
<circle cx="567.1" cy="615.3" r="2.4"/>
<circle cx="559.2" cy="620.0" r="2.4"/>
<circle cx="541.5" cy="614.4" r="2.4"/>
<circle cx="539.5" cy="615.5" r="2.4"/>
<circle cx="532.0" cy="614.9" r="2.4"/>
<circle cx="534.5" cy="614.4" r="2.4"/>
<circle cx="513.6" cy="616.8" r="2.4"/>
<circle cx="526.3" cy="610.5" r="2.4"/>
<circle cx="536.4" cy="618.7" r="2.4"/>
<circle cx="551.8" cy="613.7" r="2.4"/>
<circle cx="535.1" cy="620.5" r="2.4"/>
<circle cx="534.5" cy="615.0" r="2.4"/>
<circle cx="524.8" cy="617.6" r="2.4"/>
<circle cx="554.3" cy="616.2" r="2.4"/>
<circle cx="520.9" cy="612.9" r="2.4"/>
<circle cx="556.4" cy="615.1" r="2.4"/>
<circle cx="507.4" cy="623.0" r="2.4"/>
<circle cx="547.4" cy="619.0" r="2.4"/>
<circle cx="550.9" cy="612.9" r="2.4"/>
<circle cx="521.1" cy="622.1" r="2.4"/>
<circle cx="535.8" cy="620.8" r="2.4"/>
<circle cx="560.8" cy="612.4" r="2.4"/>
<circle cx="498.5" cy="616.7" r="2.4"/>
<circle cx="521.9" cy="615.1" r="2.4"/>
<circle cx="552.6" cy="615.0" r="2.4"/>
<circle cx="564.8" cy="615.2" r="2.4"/>
<circle cx="516.9" cy="617.4" r="2.4"/>
<circle cx="505.2" cy="614.3" r="2.4"/>
<circle cx="571.4" cy="615.3" r="2.4"/>
<circle cx="568.6" cy="613.9" r="2.4"/>
<circle cx="558.0" cy="609.9" r="2.4"/>
<circle cx="569.6" cy="615.8" r="2.4"/>
<circle cx="542.1" cy="610.7" r="2.4"/>
<circle cx="523.7" cy="607.1" r="2.4"/>
<circle cx="522.1" cy="619.5" r="2.4"/>
<circle cx="518.6" cy="616.5" r="2.4"/>
<circle cx="505.7" cy="619.5" r="2.4"/>
<circle cx="543.5" cy="612.9" r="2.4"/>
<circle cx="565.4" cy="617.0" r="2.4"/>
<circle cx="540.3" cy="610.3" r="2.4"/>
<circle cx="517.9" cy="616.4" r="2.4"/>
<circle cx="534.5" cy="614.3" r="2.4"/>
<circle cx="516.7" cy="614.3" r="2.4"/>
<circle cx="569.6" cy="621.2" r="2.4"/>
<circle cx="510.3" cy="618.9" r="2.4"/>
<circle cx="510.6" cy="615.6" r="2.4"/>
<circle cx="492.2" cy="617.3" r="2.4"/>
<circle cx="558.3" cy="621.2" r="2.4"/>
<circle cx="493.7" cy="614.8" r="2.4"/>
<circle cx="544.8" cy="615.6" r="2.4"/>
<circle cx="564.2" cy="614.7" r="2.4"/>
<circle cx="560.4" cy="611.1" r="2.4"/>
<circle cx="556.2" cy="621.5" r="2.4"/>
<circle cx="496.9" cy="614.7" r="2.4"/>
<circle cx="489.0" cy="614.9" r="2.4"/>
<circle cx="521.8" cy="615.4" r="2.4"/>
<circle cx="514.7" cy="612.3" r="2.4"/>
<circle cx="504.0" cy="616.5" r="2.4"/>
<circle cx="522.1" cy="616.3" r="2.4"/>
<circle cx="507.6" cy="615.9" r="2.4"/>
<circle cx="543.9" cy="613.9" r="2.4"/>
<circle cx="496.4" cy="617.9" r="2.4"/>
<circle cx="521.9" cy="617.8" r="2.4"/>
<circle cx="536.4" cy="614.2" r="2.4"/>
<circle cx="564.5" cy="615.1" r="2.4"/>
<circle cx="574.5" cy="615.9" r="2.4"/>
<circle cx="503.3" cy="618.1" r="2.4"/>
<circle cx="528.8" cy="611.6" r="2.4"/>
<circle cx="559.5" cy="618.9" r="2.4"/>
<circle cx="522.4" cy="617.9" r="2.4"/>
<circle cx="574.8" cy="617.4" r="2.4"/>
<circle cx="533.3" cy="613.4" r="2.4"/>
<circle cx="504.3" cy="618.4" r="2.4"/>
<circle cx="512.0" cy="614.0" r="2.4"/>
<circle cx="543.7" cy="616.2" r="2.4"/>
<circle cx="516.9" cy="611.7" r="2.4"/>
<circle cx="532.1" cy="611.9" r="2.4"/>
<circle cx="516.4" cy="616.2" r="2.4"/>
<circle cx="544.0" cy="617.0" r="2.4"/>
<circle cx="540.0" cy="614.7" r="2.4"/>
<circle cx="563.1" cy="618.8" r="2.4"/>
<circle cx="521.4" cy="622.5" r="2.4"/>
<circle cx="562.4" cy="610.1" r="2.4"/>
<circle cx="543.6" cy="620.6" r="2.4"/>
<circle cx="575.8" cy="616.5" r="2.4"/>
<circle cx="504.7" cy="619.9" r="2.4"/>
<circle cx="535.4" cy="620.1" r="2.4"/>
<circle cx="528.2" cy="616.1" r="2.4"/>
<circle cx="566.0" cy="621.3" r="2.4"/>
<circle cx="519.1" cy="612.7" r="2.4"/>
<circle cx="494.7" cy="617.4" r="2.4"/>
<circle cx="499.6" cy="615.5" r="2.4"/>
<circle cx="513.8" cy="615.0" r="2.4"/>
<circle cx="569.9" cy="618.5" r="2.4"/>
<circle cx="560.1" cy="620.4" r="2.4"/>
<circle cx="561.4" cy="616.7" r="2.4"/>
<circle cx="509.2" cy="620.8" r="2.4"/>
<circle cx="538.2" cy="619.1" r="2.4"/>
<circle cx="501.7" cy="616.5" r="2.4"/>
<circle cx="559.2" cy="609.9" r="2.4"/>
<circle cx="574.4" cy="617.8" r="2.4"/>
<circle cx="563.2" cy="618.1" r="2.4"/>
<circle cx="524.3" cy="610.8" r="2.4"/>
<circle cx="574.2" cy="616.5" r="2.4"/>
<circle cx="533.7" cy="619.3" r="2.4"/>
<circle cx="555.5" cy="616.1" r="2.4"/>
<circle cx="519.9" cy="617.7" r="2.4"/>
<circle cx="547.7" cy="617.7" r="2.4"/>
<circle cx="502.6" cy="614.9" r="2.4"/>
<circle cx="559.3" cy="617.4" r="2.4"/>
<circle cx="520.4" cy="617.1" r="2.4"/>
<circle cx="497.2" cy="617.6" r="2.4"/>
<circle cx="532.0" cy="617.4" r="2.4"/>
<circle cx="508.3" cy="610.9" r="2.4"/>
<circle cx="560.3" cy="619.1" r="2.4"/>
<circle cx="538.2" cy="616.4" r="2.4"/>
<circle cx="500.0" cy="616.0" r="2.4"/>
<circle cx="559.2" cy="618.7" r="2.4"/>
<circle cx="527.9" cy="623.2" r="2.4"/>
<circle cx="505.7" cy="616.2" r="2.4"/>
<circle cx="534.4" cy="614.3" r="2.4"/>
<circle cx="566.4" cy="613.1" r="2.4"/>
<circle cx="505.2" cy="613.3" r="2.4"/>
<circle cx="531.3" cy="615.5" r="2.4"/>
<circle cx="533.9" cy="619.9" r="2.4"/>
<circle cx="490.3" cy="616.9" r="2.4"/>
<circle cx="557.5" cy="615.5" r="2.4"/>
<circle cx="508.3" cy="617.2" r="2.4"/>
<circle cx="516.2" cy="617.1" r="2.4"/>
<circle cx="546.8" cy="616.8" r="2.4"/>
<circle cx="494.6" cy="617.9" r="2.4"/>
<circle cx="502.5" cy="618.6" r="2.4"/>
<circle cx="497.9" cy="618.9" r="2.4"/>
<circle cx="566.7" cy="614.3" r="2.4"/>
<circle cx="496.3" cy="613.8" r="2.4"/>
<circle cx="532.6" cy="614.2" r="2.4"/>
<circle cx="530.1" cy="620.4" r="2.4"/>
<circle cx="553.5" cy="614.2" r="2.4"/>
<circle cx="489.5" cy="614.9" r="2.4"/>
<circle cx="551.2" cy="617.9" r="2.4"/>
<circle cx="492.1" cy="616.8" r="2.4"/>
<circle cx="525.7" cy="615.7" r="2.4"/>
<circle cx="495.3" cy="617.7" r="2.4"/>
<circle cx="534.7" cy="616.2" r="2.4"/>
<circle cx="557.6" cy="615.8" r="2.4"/>
<circle cx="525.2" cy="617.0" r="2.4"/>
<circle cx="525.3" cy="616.8" r="2.4"/>
<circle cx="530.1" cy="612.2" r="2.4"/>
<circle cx="538.7" cy="618.1" r="2.4"/>
<circle cx="567.7" cy="617.5" r="2.4"/>
<circle cx="490.0" cy="617.6" r="2.4"/>
<circle cx="564.3" cy="611.6" r="2.4"/>
<circle cx="515.7" cy="616.7" r="2.4"/>
<circle cx="546.3" cy="618.8" r="2.4"/>
<circle cx="490.8" cy="615.8" r="2.4"/>
<circle cx="542.3" cy="611.9" r="2.4"/>
<circle cx="548.8" cy="621.4" r="2.4"/>
<circle cx="516.2" cy="618.8" r="2.4"/>
<circle cx="499.1" cy="615.7" r="2.4"/>
<circle cx="494.9" cy="619.3" r="2.4"/>
<circle cx="521.8" cy="613.6" r="2.4"/>
<circle cx="533.7" cy="612.9" r="2.4"/>
<circle cx="535.6" cy="620.8" r="2.4"/>
<circle cx="523.1" cy="610.8" r="2.4"/>
<circle cx="575.6" cy="617.2" r="2.4"/>
<circle cx="563.4" cy="618.9" r="2.4"/>
<circle cx="513.8" cy="613.5" r="2.4"/>
<circle cx="529.0" cy="617.2" r="2.4"/>
<circle cx="507.0" cy="623.4" r="2.4"/>
<circle cx="513.5" cy="616.9" r="2.4"/>
<circle cx="526.9" cy="617.7" r="2.4"/>
<circle cx="539.0" cy="609.9" r="2.4"/>
<circle cx="528.6" cy="616.1" r="2.4"/>
<circle cx="515.9" cy="617.9" r="2.4"/>
<circle cx="494.4" cy="617.8" r="2.4"/>
<circle cx="552.9" cy="616.1" r="2.4"/>
<circle cx="500.1" cy="613.7" r="2.4"/>
<circle cx="502.3" cy="613.5" r="2.4"/>
<circle cx="496.9" cy="616.8" r="2.4"/>
<circle cx="501.1" cy="617.7" r="2.4"/>
<circle cx="526.1" cy="611.4" r="2.4"/>
<circle cx="564.0" cy="618.9" r="2.4"/>
<circle cx="497.5" cy="615.0" r="2.4"/>
<circle cx="566.1" cy="611.9" r="2.4"/>
<circle cx="550.9" cy="620.1" r="2.4"/>
<circle cx="513.7" cy="614.6" r="2.4"/>
<circle cx="527.9" cy="617.3" r="2.4"/>
<circle cx="515.6" cy="617.3" r="2.4"/>
<circle cx="496.5" cy="618.0" r="2.4"/>
<circle cx="533.2" cy="612.5" r="2.4"/>
<circle cx="534.4" cy="618.9" r="2.4"/>
<circle cx="522.3" cy="621.9" r="2.4"/>
<circle cx="513.3" cy="620.1" r="2.4"/>
<circle cx="573.3" cy="618.4" r="2.4"/>
<circle cx="543.6" cy="621.2" r="2.4"/>
<circle cx="546.8" cy="613.8" r="2.4"/>
<circle cx="538.8" cy="619.2" r="2.4"/>
<circle cx="504.5" cy="617.7" r="2.4"/>
<circle cx="506.2" cy="620.9" r="2.4"/>
<circle cx="497.4" cy="614.0" r="2.4"/>
<circle cx="531.4" cy="618.8" r="2.4"/>
<circle cx="492.7" cy="619.6" r="2.4"/>
<circle cx="523.8" cy="613.5" r="2.4"/>
<circle cx="551.1" cy="615.8" r="2.4"/>
<circle cx="539.8" cy="611.8" r="2.4"/>
<circle cx="573.8" cy="615.5" r="2.4"/>
<circle cx="558.4" cy="613.8" r="2.4"/>
<circle cx="510.4" cy="617.5" r="2.4"/>
<circle cx="552.8" cy="618.4" r="2.4"/>
<circle cx="512.8" cy="614.0" r="2.4"/>
<circle cx="531.4" cy="614.5" r="2.4"/>
<circle cx="560.3" cy="618.1" r="2.4"/>
<circle cx="504.1" cy="617.2" r="2.4"/>
<circle cx="507.8" cy="612.0" r="2.4"/>
<circle cx="502.7" cy="614.8" r="2.4"/>
<circle cx="508.8" cy="615.3" r="2.4"/>
<circle cx="515.9" cy="615.0" r="2.4"/>
<circle cx="489.9" cy="616.2" r="2.4"/>
<circle cx="489.9" cy="619.5" r="2.4"/>
<circle cx="522.4" cy="623.1" r="2.4"/>
<circle cx="509.3" cy="611.8" r="2.4"/>
<circle cx="497.7" cy="615.2" r="2.4"/>
<circle cx="510.8" cy="620.7" r="2.4"/>
<circle cx="522.1" cy="615.9" r="2.4"/>
<circle cx="568.2" cy="620.5" r="2.4"/>
<circle cx="490.7" cy="617.7" r="2.4"/>
<circle cx="538.0" cy="614.5" r="2.4"/>
<circle cx="502.6" cy="614.8" r="2.4"/>
<circle cx="524.5" cy="619.3" r="2.4"/>
<circle cx="540.1" cy="615.3" r="2.4"/>
<circle cx="571.4" cy="615.2" r="2.4"/>
<circle cx="539.6" cy="620.0" r="2.4"/>
<circle cx="522.0" cy="612.6" r="2.4"/>
<circle cx="552.1" cy="615.4" r="2.4"/>
<circle cx="572.7" cy="614.9" r="2.4"/>
<circle cx="528.7" cy="620.1" r="2.4"/>
<circle cx="517.3" cy="616.8" r="2.4"/>
<circle cx="561.2" cy="617.3" r="2.4"/>
<circle cx="568.7" cy="613.3" r="2.4"/>
<circle cx="532.9" cy="621.6" r="2.4"/>
<circle cx="578.1" cy="616.1" r="2.4"/>
<circle cx="545.4" cy="621.8" r="2.4"/>
<circle cx="504.4" cy="616.1" r="2.4"/>
<circle cx="490.4" cy="616.3" r="2.4"/>
<circle cx="574.3" cy="618.5" r="2.4"/>
<circle cx="558.6" cy="610.9" r="2.4"/>
<circle cx="516.1" cy="614.9" r="2.4"/>
<circle cx="546.6" cy="614.8" r="2.4"/>
<circle cx="543.1" cy="617.2" r="2.4"/>
<circle cx="489.9" cy="614.5" r="2.4"/>
<circle cx="526.7" cy="618.2" r="2.4"/>
<circle cx="551.3" cy="617.9" r="2.4"/>
<circle cx="540.8" cy="614.2" r="2.4"/>
<circle cx="512.2" cy="613.6" r="2.4"/>
<circle cx="537.4" cy="615.4" r="2.4"/>
<circle cx="525.0" cy="619.7" r="2.4"/>
<circle cx="560.5" cy="609.1" r="2.4"/>
<circle cx="542.5" cy="615.0" r="2.4"/>
<circle cx="577.2" cy="617.4" r="2.4"/>
<circle cx="548.4" cy="623.3" r="2.4"/>
<circle cx="562.8" cy="617.7" r="2.4"/>
<circle cx="511.0" cy="615.6" r="2.4"/>
<circle cx="515.3" cy="615.7" r="2.4"/>
<circle cx="537.4" cy="615.8" r="2.4"/>
<circle cx="539.6" cy="612.2" r="2.4"/>
<circle cx="491.4" cy="617.1" r="2.4"/>
<circle cx="553.9" cy="614.8" r="2.4"/>
</g>
<polyline points="605,608.9 625.2,608.9 629.9,400.5" fill="none" stroke="#000" stroke-width="1.4" stroke-linejoin="miter"/>
</g>
<rect x="80.5" y="40.5" width="320.0" height="320.0" fill="none" stroke="#000" stroke-width="1.39"/>
<rect x="416.5" y="40.5" width="320.0" height="320.0" fill="none" stroke="#000" stroke-width="1.39"/>
<rect x="80.5" y="400.5" width="656.0" height="360.0" fill="none" stroke="#000" stroke-width="1.39"/>
<rect x="211.5" y="399" width="2.5" height="3" fill="#fff"/>
<rect x="211.5" y="759" width="2.5" height="3" fill="#fff"/>
<line x1="80.5" y1="82.5" x2="86.8" y2="82.5" stroke="#000" stroke-width="0.75" />
<line x1="400.5" y1="82.5" x2="394.2" y2="82.5" stroke="#000" stroke-width="0.75" />
<text transform="translate(31.31,85.60) scale(1.1296,1.0634)">80000</text>
<line x1="80.5" y1="127.5" x2="86.8" y2="127.5" stroke="#000" stroke-width="0.75" />
<line x1="400.5" y1="127.5" x2="394.2" y2="127.5" stroke="#000" stroke-width="0.75" />
<text transform="translate(31.30,130.60) scale(1.1299,1.0634)">60000</text>
<line x1="80.5" y1="172.5" x2="86.8" y2="172.5" stroke="#000" stroke-width="0.75" />
<line x1="400.5" y1="172.5" x2="394.2" y2="172.5" stroke="#000" stroke-width="0.75" />
<text transform="translate(31.50,175.60) scale(1.1248,1.0634)">40000</text>
<line x1="80.5" y1="217.5" x2="86.8" y2="217.5" stroke="#000" stroke-width="0.75" />
<line x1="400.5" y1="217.5" x2="394.2" y2="217.5" stroke="#000" stroke-width="0.75" />
<text transform="translate(31.37,220.60) scale(1.1280,1.0634)">20000</text>
<line x1="80.5" y1="262.5" x2="86.8" y2="262.5" stroke="#000" stroke-width="0.75" />
<line x1="400.5" y1="262.5" x2="394.2" y2="262.5" stroke="#000" stroke-width="0.75" />
<text transform="translate(66.78,265.60) scale(1.0521,1.0634)">0</text>
<line x1="80.5" y1="307.5" x2="86.8" y2="307.5" stroke="#000" stroke-width="0.75" />
<line x1="400.5" y1="307.5" x2="394.2" y2="307.5" stroke="#000" stroke-width="0.75" />
<text transform="translate(20.12,310.60) scale(1.1738,1.0634)">−20000</text>
<line x1="80.5" y1="352.5" x2="86.8" y2="352.5" stroke="#000" stroke-width="0.75" />
<line x1="400.5" y1="352.5" x2="394.2" y2="352.5" stroke="#000" stroke-width="0.75" />
<text transform="translate(20.12,355.60) scale(1.1738,1.0634)">−40000</text>
<line x1="120.5" y1="40.5" x2="120.5" y2="46.8" stroke="#000" stroke-width="0.75" />
<line x1="120.5" y1="360.5" x2="120.5" y2="354.2" stroke="#000" stroke-width="0.75" />
<text transform="translate(115.47,374.80) scale(1.0000,1.0643)">5</text>
<line x1="167.5" y1="40.5" x2="167.5" y2="46.8" stroke="#000" stroke-width="0.75" />
<line x1="167.5" y1="360.5" x2="167.5" y2="354.2" stroke="#000" stroke-width="0.75" />
<text transform="translate(158.05,374.80) scale(1.0950,1.0634)">10</text>
<line x1="214.5" y1="40.5" x2="214.5" y2="46.8" stroke="#000" stroke-width="0.75" />
<line x1="214.5" y1="360.5" x2="214.5" y2="354.2" stroke="#000" stroke-width="0.75" />
<text transform="translate(205.17,374.80) scale(1.0804,1.0643)">15</text>
<line x1="261.5" y1="40.5" x2="261.5" y2="46.8" stroke="#000" stroke-width="0.75" />
<line x1="261.5" y1="360.5" x2="261.5" y2="354.2" stroke="#000" stroke-width="0.75" />
<text transform="translate(252.14,374.80) scale(1.1024,1.0634)">20</text>
<line x1="308.5" y1="40.5" x2="308.5" y2="46.8" stroke="#000" stroke-width="0.75" />
<line x1="308.5" y1="360.5" x2="308.5" y2="354.2" stroke="#000" stroke-width="0.75" />
<text transform="translate(299.25,374.80) scale(1.0882,1.0634)">25</text>
<line x1="356.5" y1="40.5" x2="356.5" y2="46.8" stroke="#000" stroke-width="0.75" />
<line x1="356.5" y1="360.5" x2="356.5" y2="354.2" stroke="#000" stroke-width="0.75" />
<text transform="translate(346.50,374.80) scale(1.0918,1.0634)">30</text>
<text transform="translate(331.87,388.60) scale(1.1626,1.0634)">+6.071e4</text>
<line x1="736.5" y1="76.5" x2="730.2" y2="76.5" stroke="#000" stroke-width="0.75" />
<text transform="translate(740.05,80.60) scale(1.1296,1.0634)">80000</text>
<line x1="736.5" y1="116.5" x2="730.2" y2="116.5" stroke="#000" stroke-width="0.75" />
<text transform="translate(740.04,119.90) scale(1.1299,1.0634)">60000</text>
<line x1="736.5" y1="155.5" x2="730.2" y2="155.5" stroke="#000" stroke-width="0.75" />
<text transform="translate(740.23,159.20) scale(1.1248,1.0634)">40000</text>
<line x1="736.5" y1="194.5" x2="730.2" y2="194.5" stroke="#000" stroke-width="0.75" />
<text transform="translate(740.11,198.50) scale(1.1280,1.0634)">20000</text>
<line x1="736.5" y1="233.5" x2="730.2" y2="233.5" stroke="#000" stroke-width="0.75" />
<text transform="translate(740.17,237.80) scale(1.0521,1.0634)">0</text>
<line x1="736.5" y1="273.5" x2="730.2" y2="273.5" stroke="#000" stroke-width="0.75" />
<text transform="translate(740.49,277.10) scale(1.1738,1.0634)">−20000</text>
<line x1="736.5" y1="312.5" x2="730.2" y2="312.5" stroke="#000" stroke-width="0.75" />
<text transform="translate(740.49,316.40) scale(1.1738,1.0634)">−40000</text>
<line x1="736.5" y1="351.5" x2="730.2" y2="351.5" stroke="#000" stroke-width="0.75" />
<text transform="translate(740.49,355.70) scale(1.1738,1.0634)">−60000</text>
<line x1="459.5" y1="40.5" x2="459.5" y2="46.8" stroke="#000" stroke-width="0.75" />
<line x1="459.5" y1="360.5" x2="459.5" y2="354.2" stroke="#000" stroke-width="0.75" />
<text transform="translate(449.95,374.80) scale(1.0950,1.0634)">10</text>
<line x1="538.5" y1="40.5" x2="538.5" y2="46.8" stroke="#000" stroke-width="0.75" />
<line x1="538.5" y1="360.5" x2="538.5" y2="354.2" stroke="#000" stroke-width="0.75" />
<text transform="translate(528.64,374.80) scale(1.1024,1.0634)">20</text>
<line x1="616.5" y1="40.5" x2="616.5" y2="46.8" stroke="#000" stroke-width="0.75" />
<line x1="616.5" y1="360.5" x2="616.5" y2="354.2" stroke="#000" stroke-width="0.75" />
<text transform="translate(607.50,374.80) scale(1.0918,1.0634)">30</text>
<line x1="695.5" y1="40.5" x2="695.5" y2="46.8" stroke="#000" stroke-width="0.75" />
<line x1="695.5" y1="360.5" x2="695.5" y2="354.2" stroke="#000" stroke-width="0.75" />
<text transform="translate(686.15,374.80) scale(1.0948,1.0634)">40</text>
<text transform="translate(676.70,388.60) scale(1.1671,1.0634)">+6.07e4</text>
<line x1="80.5" y1="441.5" x2="86.8" y2="441.5" stroke="#000" stroke-width="0.75" />
<line x1="736.5" y1="441.5" x2="730.2" y2="441.5" stroke="#000" stroke-width="0.75" />
<text transform="translate(31.31,444.60) scale(1.1296,1.0634)">80000</text>
<line x1="80.5" y1="485.5" x2="86.8" y2="485.5" stroke="#000" stroke-width="0.75" />
<line x1="736.5" y1="485.5" x2="730.2" y2="485.5" stroke="#000" stroke-width="0.75" />
<text transform="translate(31.30,488.80) scale(1.1299,1.0634)">60000</text>
<line x1="80.5" y1="529.5" x2="86.8" y2="529.5" stroke="#000" stroke-width="0.75" />
<line x1="736.5" y1="529.5" x2="730.2" y2="529.5" stroke="#000" stroke-width="0.75" />
<text transform="translate(31.50,533.00) scale(1.1248,1.0634)">40000</text>
<line x1="80.5" y1="574.5" x2="86.8" y2="574.5" stroke="#000" stroke-width="0.75" />
<line x1="736.5" y1="574.5" x2="730.2" y2="574.5" stroke="#000" stroke-width="0.75" />
<text transform="translate(31.37,577.20) scale(1.1280,1.0634)">20000</text>
<line x1="80.5" y1="618.5" x2="86.8" y2="618.5" stroke="#000" stroke-width="0.75" />
<line x1="736.5" y1="618.5" x2="730.2" y2="618.5" stroke="#000" stroke-width="0.75" />
<text transform="translate(66.78,621.40) scale(1.0521,1.0634)">0</text>
<line x1="80.5" y1="662.5" x2="86.8" y2="662.5" stroke="#000" stroke-width="0.75" />
<line x1="736.5" y1="662.5" x2="730.2" y2="662.5" stroke="#000" stroke-width="0.75" />
<text transform="translate(20.12,665.60) scale(1.1738,1.0634)">−20000</text>
<line x1="80.5" y1="706.5" x2="86.8" y2="706.5" stroke="#000" stroke-width="0.75" />
<line x1="736.5" y1="706.5" x2="730.2" y2="706.5" stroke="#000" stroke-width="0.75" />
<text transform="translate(20.12,709.80) scale(1.1738,1.0634)">−40000</text>
<line x1="80.5" y1="750.5" x2="86.8" y2="750.5" stroke="#000" stroke-width="0.75" />
<line x1="736.5" y1="750.5" x2="730.2" y2="750.5" stroke="#000" stroke-width="0.75" />
<text transform="translate(20.12,754.00) scale(1.1738,1.0634)">−60000</text>
<line x1="109.5" y1="400.5" x2="109.5" y2="406.8" stroke="#000" stroke-width="0.75" />
<line x1="109.5" y1="760.5" x2="109.5" y2="754.2" stroke="#000" stroke-width="0.75" />
<text transform="translate(86.73,774.70) scale(1.1238,1.0634)">58200</text>
<line x1="180.5" y1="400.5" x2="180.5" y2="406.8" stroke="#000" stroke-width="0.75" />
<line x1="180.5" y1="760.5" x2="180.5" y2="754.2" stroke="#000" stroke-width="0.75" />
<text transform="translate(157.73,774.70) scale(1.1238,1.0634)">58400</text>
<line x1="257.5" y1="400.5" x2="257.5" y2="406.8" stroke="#000" stroke-width="0.75" />
<line x1="257.5" y1="760.5" x2="257.5" y2="754.2" stroke="#000" stroke-width="0.75" />
<text transform="translate(234.93,774.70) scale(1.1238,1.0634)">59700</text>
<line x1="329.5" y1="400.5" x2="329.5" y2="406.8" stroke="#000" stroke-width="0.75" />
<line x1="329.5" y1="760.5" x2="329.5" y2="754.2" stroke="#000" stroke-width="0.75" />
<text transform="translate(306.33,774.70) scale(1.1238,1.0634)">59900</text>
<line x1="400.5" y1="400.5" x2="400.5" y2="406.8" stroke="#000" stroke-width="0.75" />
<line x1="400.5" y1="760.5" x2="400.5" y2="754.2" stroke="#000" stroke-width="0.75" />
<text transform="translate(377.50,774.70) scale(1.1299,1.0634)">60100</text>
<line x1="471.5" y1="400.5" x2="471.5" y2="406.8" stroke="#000" stroke-width="0.75" />
<line x1="471.5" y1="760.5" x2="471.5" y2="754.2" stroke="#000" stroke-width="0.75" />
<text transform="translate(448.90,774.70) scale(1.1299,1.0634)">60300</text>
<line x1="543.5" y1="400.5" x2="543.5" y2="406.8" stroke="#000" stroke-width="0.75" />
<line x1="543.5" y1="760.5" x2="543.5" y2="754.2" stroke="#000" stroke-width="0.75" />
<text transform="translate(520.30,774.70) scale(1.1299,1.0634)">60500</text>
<line x1="614.5" y1="400.5" x2="614.5" y2="406.8" stroke="#000" stroke-width="0.75" />
<line x1="614.5" y1="760.5" x2="614.5" y2="754.2" stroke="#000" stroke-width="0.75" />
<text transform="translate(591.70,774.70) scale(1.1299,1.0634)">60700</text>
<line x1="686.5" y1="400.5" x2="686.5" y2="406.8" stroke="#000" stroke-width="0.75" />
<line x1="686.5" y1="760.5" x2="686.5" y2="754.2" stroke="#000" stroke-width="0.75" />
<text transform="translate(663.10,774.70) scale(1.1299,1.0634)">60900</text>
<text transform="translate(96.88,31.00) scale(1.1089,1.0400)">BLG11K0606.000787</text>
<text transform="translate(248.96,31.00) scale(1.1422,1.0400)">(6389.80,</text>
<text transform="translate(320.83,31.00) scale(1.1352,1.0400)">5827.03)</text>
<text transform="translate(400.87,31.00) scale(1.0105,1.0400)">3</text>
<text transform="translate(414.07,31.00) scale(1.1016,1.0400)">582</text>
<text transform="translate(444.98,31.00) scale(1.1259,1.0400)">5801.63</text>
<text transform="translate(506.69,31.00) scale(1.1302,1.0400)">0.006</text>
<text transform="translate(550.79,31.00) scale(1.1234,1.0400)">640</text>
<text transform="translate(581.58,31.00) scale(1.1580,1.0400)">[60740.525,</text>
<text transform="translate(671.05,31.00) scale(1.1568,1.0400)">60741.875]</text>
</svg>
</body></html>
